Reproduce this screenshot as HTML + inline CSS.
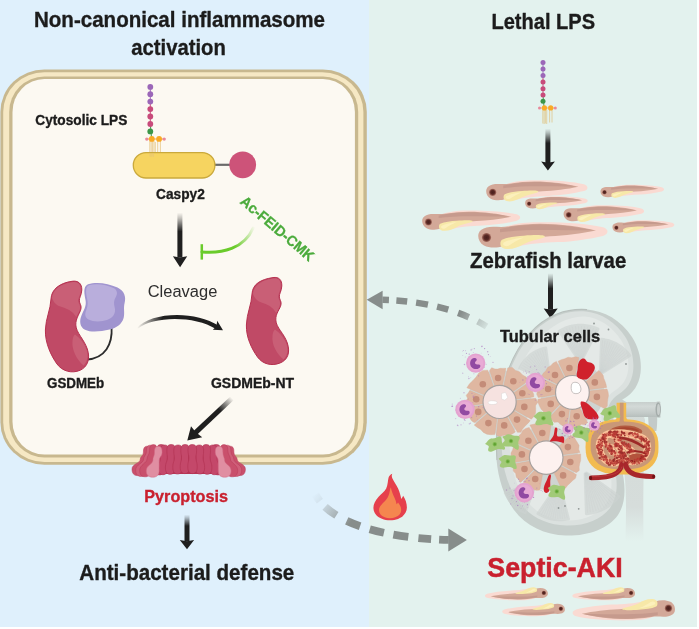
<!DOCTYPE html>
<html lang="en">
<head>
<meta charset="utf-8">
<title>Non-canonical inflammasome activation / Lethal LPS</title>
<style>
html,body{margin:0;padding:0;background:#fff;}
body{width:699px;height:629px;overflow:hidden;}
svg{display:block;will-change:transform;}
text{font-family:"Liberation Sans",Arial,Helvetica,sans-serif;}
.b{font-weight:bold;}
</style>
</head>
<body>
<svg width="699" height="629" viewBox="0 0 699 629">
<defs>
  <linearGradient id="gDown" x1="0" y1="0" x2="0" y2="1">
    <stop offset="0" stop-color="#1f1f1f" stop-opacity="0"/>
    <stop offset="0.12" stop-color="#1f1f1f" stop-opacity="0.25"/>
    <stop offset="0.42" stop-color="#1f1f1f" stop-opacity="1"/>
    <stop offset="1" stop-color="#1f1f1f" stop-opacity="1"/>
  </linearGradient>
</defs>
<defs>
  <radialGradient id="gEye" cx="0.5" cy="0.5" r="0.5">
    <stop offset="0" stop-color="#4a1f1c"/>
    <stop offset="0.55" stop-color="#5a2a25"/>
    <stop offset="0.8" stop-color="#8b5247"/>
    <stop offset="1" stop-color="#a8766a"/>
  </radialGradient>
  <!-- zebrafish larva, local length 128, head left -->
  <g id="fish">
    <path d="M20,8 C28,0.6 45,-0.9 60,-1.1 C85,-1.4 112,0.6 125,4 C131,6 131,10.6 125,12.6 C112,15.6 95,18.2 80,18.8 C65,19.4 50,20.6 40,23.2 C34,24.8 24,20 20,8 Z" fill="#fadad2"/>
    <path d="M8.5,4.2 C14,2.6 22,4.4 30,3.2 C42,1.5 52,0.5 62,0.5 C82,0.5 104,3.6 118,7.2 C104,10.3 86,12.2 72,12.9 C60,13.5 50,15.2 40,17.3 C34,18.6 30,21 25,22.8 C19,25 11,24.8 6,22.3 C1.2,19.8 -0.6,14.3 0.6,10.2 C1.6,6.9 4.5,5.3 8.5,4.2 Z" fill="#d3a898"/>
    <path d="M22,5.6 C36,2.4 50,1.1 62,1.1 C82,1.1 102,4 115.5,7 C100,7 82,6.6 64,6.6 C48,6.6 34,7.4 22,9 Z" fill="#c2958a" opacity="0.75"/>
    <path d="M24,16.5 C30,13.6 38,13 46,12.4 C54,11.8 62,11.4 66,12.4 C67.5,12.9 67,14 65,14.6 C58,16.3 52,17.6 46,20.6 C41,23.2 36,25.8 30,25.8 C25,25.8 22.4,23.6 22.4,20.6 C22.4,18.8 22.8,17.2 24,16.5 Z" fill="#f7e8a8"/>
    <path d="M26,19 C31,16.5 38,15.2 46,14.2 C40,16.5 35,19.5 31,22.2 C28.5,23.6 25.5,22.6 25.2,21 C25,20.2 25.3,19.4 26,19 Z" fill="#fdf3c4" opacity="0.7"/>
    <circle cx="8.5" cy="14.2" r="4.6" fill="url(#gEye)"/>
  </g>
</defs>
<!-- backgrounds -->
<rect x="0" y="0" width="699" height="629" fill="#ffffff"/>
<rect x="0" y="0" width="369" height="627" fill="#dff0fc"/>
<rect x="369" y="0" width="328" height="627" fill="#e3f2ee"/>
<!-- cell membrane -->
<g id="cell">
  <rect x="0.4" y="69.4" width="366.4" height="395.4" rx="44" ry="42.5" fill="#c8b88f"/>
  <rect x="3.2" y="72.2" width="360.2" height="389.8" rx="41.2" ry="39.7" fill="#f6e8c4"/>
  <rect x="9.2" y="76.5" width="349" height="380.9" rx="35.2" ry="35.4" fill="#c8b88f"/>
  <rect x="12.5" y="79" width="342.4" height="375.6" rx="31.9" ry="32.9" fill="#fcf9f2"/>
</g>
<!-- cytosolic LPS -->
<g id="lps">
  <line x1="150.3" y1="87" x2="150.3" y2="101.6" stroke="#9b67b8" stroke-width="1"/>
  <line x1="150.3" y1="101.6" x2="150.3" y2="124" stroke="#c84b7b" stroke-width="1"/>
  <line x1="150.3" y1="124" x2="151.5" y2="138" stroke="#3c9648" stroke-width="1"/>
  <line x1="146.8" y1="139" x2="164.2" y2="139" stroke="#f1a040" stroke-width="0.9"/>
  <g stroke="#dfb561" stroke-width="0.6" fill="none">
    <path d="M149.8,141 V156.5 M151.2,141 V157 M152.6,141 V156.5 M154,141 V157 M155.3,142 V156"/>
    <path d="M157.7,141 V154 M160.4,141 V154"/>
  </g>
  <circle cx="150.3" cy="86.9" r="2.9" fill="#9b67b8"/>
  <circle cx="150.3" cy="94.2" r="2.9" fill="#9b67b8"/>
  <circle cx="150.3" cy="101.6" r="2.9" fill="#9b67b8"/>
  <circle cx="150.3" cy="109.1" r="2.9" fill="#c84b7b"/>
  <circle cx="150.3" cy="116.5" r="2.9" fill="#c84b7b"/>
  <circle cx="150.3" cy="124" r="2.9" fill="#c84b7b"/>
  <circle cx="150.3" cy="131.4" r="2.9" fill="#3c9648"/>
  <circle cx="146.8" cy="139.1" r="1.7" fill="#e8899b"/>
  <circle cx="164.2" cy="139.1" r="1.7" fill="#e8899b"/>
  <circle cx="151.8" cy="138.9" r="2.9" fill="#f9aa26"/>
  <circle cx="159.1" cy="138.9" r="2.9" fill="#f9aa26"/>
</g>
<!-- Caspy2 -->
<g id="caspy2">
  <line x1="214" y1="164.8" x2="231" y2="164.8" stroke="#6a6a6a" stroke-width="2.2"/>
  <rect x="133.3" y="152.6" width="81.6" height="25.4" rx="12.7" ry="12.7" fill="#f6d460" stroke="#caa93c" stroke-width="1.3"/>
  <g stroke="#e3c07c" stroke-width="0.6" fill="none" opacity="0.8">
    <path d="M149.9,153 V156.5 M151.1,153 V157 M152.3,153 V156.5 M153.5,153 V157"/>
  </g>
  <circle cx="242.7" cy="164.8" r="13.4" fill="#cd5379"/>
</g>
<!-- arrow Caspy2 -> cleavage -->
<g id="arrow1">
  <rect x="177.4" y="212.6" width="5" height="45" fill="url(#gDown)"/>
  <path d="M172.9,256.2 L180,257.4 L187.2,256.2 L180.1,267.2 Z" fill="#1f1f1f"/>
</g>
<!-- inhibitor -->
<g id="inhib">
  <defs>
    <linearGradient id="gInh" gradientUnits="userSpaceOnUse" x1="203" y1="252" x2="254" y2="228">
      <stop offset="0" stop-color="#6acb2b"/>
      <stop offset="0.55" stop-color="#6acb2b"/>
      <stop offset="1" stop-color="#6acb2b" stop-opacity="0.05"/>
    </linearGradient>
  </defs>
  <path d="M202,251.9 C222,253.6 244,249 253.2,228" fill="none" stroke="url(#gInh)" stroke-width="3" stroke-linecap="round"/>
  <line x1="201.8" y1="244.2" x2="201.8" y2="259.6" stroke="#6acb2b" stroke-width="2.5"/>
</g>
<!-- curved arrow -->
<g id="curve">
  <defs>
    <linearGradient id="gCur" gradientUnits="userSpaceOnUse" x1="137" y1="328" x2="222" y2="328">
      <stop offset="0" stop-color="#1f1f1f" stop-opacity="0"/>
      <stop offset="0.3" stop-color="#1f1f1f" stop-opacity="1"/>
      <stop offset="1" stop-color="#1f1f1f"/>
    </linearGradient>
  </defs>
  <path d="M137,328 C150,312 195,310 218.5,325.6 L216,329 C194,315 152,316.4 138,328.6 Z" fill="url(#gCur)"/>
  <path d="M223,330.2 L212.8,329.8 L216.4,326.4 L217.2,320.8 Z" fill="#1f1f1f"/>
</g>
<!-- GSDMEb full length -->
<g id="gsdmeb">
  <path d="M111.6,327 C112.6,344 105.5,358.3 86.5,359.6" fill="none" stroke="#2c2c2c" stroke-width="1.8"/>
  <path d="M72,281.3 C78,280.3 82,283.5 81.8,290 C81.6,295 79,298 79.3,301 C79.6,304 81.6,305 81,308.5 C80.3,313 75.5,318 75.8,325 C76.2,333 84,339 87.3,349 C90.6,359 87.5,367 80,370.3 C72,373.7 62.5,371.5 57,364 C51,355.5 45,343 45.4,330 C45.8,318 50.5,310 51,299 C51.4,289 60,283 72,281.3 Z" fill="#c04a66" stroke="#b5304f" stroke-width="1"/>
  <path d="M72,282.3 C77.5,281.3 81,284 80.8,290 C80.6,295 78,298 78.3,301 C78.6,304 80.6,305 80,308.5 C79.5,311.5 77.5,314.5 76.2,317 C73,311 66,308 60.5,306.5 C56,305.3 53.5,302 52,298 C52.8,289.5 60.5,284 72,282.3 Z" fill="#c95f76"/>
  <path d="M75,334.5 C80,338 84.8,343.5 86.8,350.5 C88.6,357 86.8,362.5 83.5,365.5 C77,360 71.5,350 72.5,341 C72.8,338 73.5,335.5 75,334.5 Z" fill="#c95f76"/>
  <path d="M88,284.3 C96,281.5 108,283 117.5,287.5 C124.5,291 126.2,297 124.6,303 C123.2,308.5 125,313 123.6,318 C122,324 116.5,328 109.5,329.6 C101,331.6 91,332.8 85,329.8 C80,327.3 79.2,321.5 81.3,316 C83.4,310.5 86.6,306.5 85.6,300.5 C84.6,294.5 82.5,287 88,284.3 Z" fill="#a094cf"/>
  <path d="M89,285.3 C96,283 106,284.3 113.5,288 C117.5,290 117.8,294 115.8,297 C113.5,300.5 113.8,304 114.8,308 C116,313 113,318 107,320 C101,322 93,322 88.5,319.5 C85,317.5 84.5,314 86.3,310 C88,306 88,302 87,298 C86,293.5 85,287 89,285.3 Z" fill="#b9aedc"/>
</g>
<!-- GSDMEb-NT -->
<g id="gsdmebnt">
  <path d="M273,277.6 C279,276.6 282,280 281.8,286 C281.6,291 279,294 279.3,297 C279.6,300 281.6,301 281,304.5 C280.3,309 275.5,313 275.8,320 C276.2,328 284,333 287.3,343 C290.6,353 287.5,360 280,363 C272,366.2 263,364.5 257.5,357 C251.5,348.5 246,337 246.4,325 C246.8,313 251.5,305 252,294 C252.4,284 261,279.3 273,277.6 Z" fill="#c04a66" stroke="#b5304f" stroke-width="1"/>
  <path d="M273,278.6 C278.5,277.6 281,280.5 280.8,286 C280.6,291 278,294 278.3,297 C278.6,300 280.6,301 280,304.5 C279.5,307.5 277.5,310.5 276.2,313 C273,307 267,304 261.5,302.5 C257,301.3 254.5,298 253,294 C253.8,285.5 261.5,280.3 273,278.6 Z" fill="#c95f76"/>
  <path d="M275,329.5 C280,333 284.8,338.5 286.8,345 C288.6,351 286.8,356.5 283.5,359.5 C277,354 271.5,345 272.5,336 C272.8,333 273.5,330.5 275,329.5 Z" fill="#c95f76"/>
</g>
<!-- diagonal arrow to pore -->
<g id="arrow2">
  <defs>
    <linearGradient id="gDiag" gradientUnits="userSpaceOnUse" x1="232" y1="398" x2="190" y2="438">
      <stop offset="0" stop-color="#1f1f1f" stop-opacity="0"/>
      <stop offset="0.3" stop-color="#1f1f1f" stop-opacity="1"/>
      <stop offset="1" stop-color="#1f1f1f"/>
    </linearGradient>
  </defs>
  <line x1="232.3" y1="398" x2="194.5" y2="433.6" stroke="url(#gDiag)" stroke-width="5"/>
  <path d="M187.3,440.4 L191,426.3 L195.8,432.2 L202.2,437.3 Z" fill="#1f1f1f"/>
</g>
<!-- arrow pyroptosis -> defense -->
<g id="arrow3">
  <rect x="184.5" y="514.6" width="5" height="27" fill="url(#gDown)"/>
  <path d="M179.8,540 L187,541.2 L194.1,540 L187,549.3 Z" fill="#1f1f1f"/>
</g>
<!-- gasdermin pore -->
<g id="pore">
  <path d="M147.2,446.2 C150.6,446.2 150.9,449.2 150.9,452.2 C150.9,456.2 146.4,456.4 146.4,459.4 C146.4,463.4 143.0,463.6 143.0,469.1 C143.0,473.1 141.3,475.6 137.5,475.6 C133.7,475.6 132.0,473.1 132.0,469.1 C132.0,463.6 140.2,463.4 140.2,459.4 C140.2,456.4 143.4,456.2 143.4,452.2 C143.4,449.2 143.8,446.2 147.2,446.2 Z" fill="#c9506c" stroke="#b93a58" stroke-width="0.5"/>
  <path d="M150.2,445.2 C153.6,445.2 153.9,448.2 153.9,451.2 C153.9,455.2 149.7,456.2 149.7,459.2 C149.7,463.2 146.7,464.4 146.7,469.9 C146.7,473.9 145.0,476.4 141.2,476.4 C137.3,476.4 135.7,473.9 135.7,469.9 C135.7,464.4 143.5,463.2 143.5,459.2 C143.5,456.2 146.4,455.2 146.4,451.2 C146.4,448.2 146.8,445.2 150.2,445.2 Z" fill="#cf5f79" stroke="#b93a58" stroke-width="0.5"/>
  <path d="M153.4,444.6 C156.8,444.6 157.1,447.6 157.1,450.6 C157.1,454.6 153.2,456.1 153.2,459.1 C153.2,463.1 150.7,464.8 150.7,470.3 C150.7,474.3 149.0,476.8 145.2,476.8 C141.3,476.8 139.7,474.3 139.7,470.3 C139.7,464.8 147.0,463.1 147.0,459.1 C147.0,456.1 149.6,454.6 149.6,450.6 C149.6,447.6 150.0,444.6 153.4,444.6 Z" fill="#c9506c" stroke="#b93a58" stroke-width="0.5"/>
  <path d="M230.2,446.2 C233.6,446.2 233.9,449.2 233.9,452.2 C233.9,456.2 237.2,456.4 237.2,459.4 C237.2,463.4 245.4,463.6 245.4,469.1 C245.4,473.1 243.7,475.6 239.9,475.6 C236.0,475.6 234.4,473.1 234.4,469.1 C234.4,463.6 231.0,463.4 231.0,459.4 C231.0,456.4 226.4,456.2 226.4,452.2 C226.4,449.2 226.8,446.2 230.2,446.2 Z" fill="#c9506c" stroke="#b93a58" stroke-width="0.5"/>
  <path d="M227.2,445.2 C230.6,445.2 230.9,448.2 230.9,451.2 C230.9,455.2 233.9,456.2 233.9,459.2 C233.9,463.2 241.7,464.4 241.7,469.9 C241.7,473.9 240.0,476.4 236.2,476.4 C232.3,476.4 230.7,473.9 230.7,469.9 C230.7,464.4 227.7,463.2 227.7,459.2 C227.7,456.2 223.4,455.2 223.4,451.2 C223.4,448.2 223.8,445.2 227.2,445.2 Z" fill="#cf5f79" stroke="#b93a58" stroke-width="0.5"/>
  <path d="M224.0,444.6 C227.4,444.6 227.8,447.6 227.8,450.6 C227.8,454.6 230.4,456.1 230.4,459.1 C230.4,463.1 237.7,464.8 237.7,470.3 C237.7,474.3 236.0,476.8 232.2,476.8 C228.3,476.8 226.7,474.3 226.7,470.3 C226.7,464.8 224.2,463.1 224.2,459.1 C224.2,456.1 220.2,454.6 220.2,450.6 C220.2,447.6 220.6,444.6 224.0,444.6 Z" fill="#c9506c" stroke="#b93a58" stroke-width="0.5"/>
  <path d="M158,447.5 H219.4 L221.5,474 H156 Z" fill="#b73655"/>
  <path d="M161.1,444.5 C165.0,444.5 165.4,447.5 165.4,450.5 C165.4,454.5 164.0,455.2 164.0,458.2 C164.0,462.2 164.1,462.9 164.1,468.4 C164.1,472.4 162.7,474.9 159.4,474.9 C156.2,474.9 154.7,472.4 154.7,468.4 C154.7,462.9 156.9,462.2 156.9,458.2 C156.9,455.2 156.8,454.5 156.8,450.5 C156.8,447.5 157.2,444.5 161.1,444.5 Z" fill="#c4486a" stroke="#b03050" stroke-width="0.6"/>
  <path d="M216.3,444.5 C220.2,444.5 220.6,447.5 220.6,450.5 C220.6,454.5 220.5,455.2 220.5,458.2 C220.5,462.2 222.7,462.9 222.7,468.4 C222.7,472.4 221.2,474.9 218.0,474.9 C214.7,474.9 213.3,472.4 213.3,468.4 C213.3,462.9 213.4,462.2 213.4,458.2 C213.4,455.2 212.0,454.5 212.0,450.5 C212.0,447.5 212.4,444.5 216.3,444.5 Z" fill="#c4486a" stroke="#b03050" stroke-width="0.6"/>
  <path d="M164.5,445.0 C168.4,445.0 168.8,448.0 168.8,451.0 C168.8,455.0 167.4,455.4 167.4,458.4 C167.4,462.4 167.7,462.7 167.7,468.2 C167.7,472.2 166.3,474.7 163.0,474.7 C159.8,474.7 158.3,472.2 158.3,468.2 C158.3,462.7 160.4,462.4 160.4,458.4 C160.4,455.4 160.2,455.0 160.2,451.0 C160.2,448.0 160.6,445.0 164.5,445.0 Z" fill="#c4486a" stroke="#b03050" stroke-width="0.6"/>
  <path d="M212.9,445.0 C216.8,445.0 217.2,448.0 217.2,451.0 C217.2,455.0 217.0,455.4 217.0,458.4 C217.0,462.4 219.1,462.7 219.1,468.2 C219.1,472.2 217.6,474.7 214.4,474.7 C211.1,474.7 209.7,472.2 209.7,468.2 C209.7,462.7 210.0,462.4 210.0,458.4 C210.0,455.4 208.6,455.0 208.6,451.0 C208.6,448.0 209.0,445.0 212.9,445.0 Z" fill="#c4486a" stroke="#b03050" stroke-width="0.6"/>
  <path d="M171.2,444.5 C175.1,444.5 175.5,447.5 175.5,450.5 C175.5,454.5 174.3,454.9 174.3,457.9 C174.3,461.9 174.8,462.3 174.8,467.8 C174.8,471.8 173.4,474.3 170.1,474.3 C166.9,474.3 165.4,471.8 165.4,467.8 C165.4,462.3 167.3,461.9 167.3,457.9 C167.3,454.9 166.9,454.5 166.9,450.5 C166.9,447.5 167.3,444.5 171.2,444.5 Z" fill="#c4486a" stroke="#b03050" stroke-width="0.6"/>
  <path d="M206.2,444.5 C210.1,444.5 210.5,447.5 210.5,450.5 C210.5,454.5 210.1,454.9 210.1,457.9 C210.1,461.9 211.9,462.3 211.9,467.8 C211.9,471.8 210.5,474.3 207.2,474.3 C204.0,474.3 202.6,471.8 202.6,467.8 C202.6,462.3 203.1,461.9 203.1,457.9 C203.1,454.9 201.9,454.5 201.9,450.5 C201.9,447.5 202.3,444.5 206.2,444.5 Z" fill="#c4486a" stroke="#b03050" stroke-width="0.6"/>
  <path d="M178.1,445.0 C182.0,445.0 182.4,448.0 182.4,451.0 C182.4,455.0 181.4,455.0 181.4,458.0 C181.4,462.0 182.2,462.0 182.2,467.5 C182.2,471.5 180.8,474.0 177.5,474.0 C174.2,474.0 172.8,471.5 172.8,467.5 C172.8,462.0 174.3,462.0 174.3,458.0 C174.3,455.0 173.8,455.0 173.8,451.0 C173.8,448.0 174.2,445.0 178.1,445.0 Z" fill="#c4486a" stroke="#b03050" stroke-width="0.6"/>
  <path d="M199.3,445.0 C203.2,445.0 203.6,448.0 203.6,451.0 C203.6,455.0 203.1,455.0 203.1,458.0 C203.1,462.0 204.6,462.0 204.6,467.5 C204.6,471.5 203.2,474.0 199.9,474.0 C196.6,474.0 195.2,471.5 195.2,467.5 C195.2,462.0 196.0,462.0 196.0,458.0 C196.0,455.0 195.0,455.0 195.0,451.0 C195.0,448.0 195.4,445.0 199.3,445.0 Z" fill="#c4486a" stroke="#b03050" stroke-width="0.6"/>
  <path d="M185.1,444.5 C189.0,444.5 189.4,447.5 189.4,450.5 C189.4,454.5 188.5,454.6 188.5,457.6 C188.5,461.6 189.6,461.6 189.6,467.1 C189.6,471.1 188.2,473.6 184.9,473.6 C181.6,473.6 180.2,471.1 180.2,467.1 C180.2,461.6 181.5,461.6 181.5,457.6 C181.5,454.6 180.8,454.5 180.8,450.5 C180.8,447.5 181.2,444.5 185.1,444.5 Z" fill="#c4486a" stroke="#b03050" stroke-width="0.6"/>
  <path d="M192.3,444.5 C196.2,444.5 196.6,447.5 196.6,450.5 C196.6,454.5 195.9,454.6 195.9,457.6 C195.9,461.6 197.2,461.6 197.2,467.1 C197.2,471.1 195.8,473.6 192.5,473.6 C189.2,473.6 187.8,471.1 187.8,467.1 C187.8,461.6 188.9,461.6 188.9,457.6 C188.9,454.6 188.0,454.5 188.0,450.5 C188.0,447.5 188.4,444.5 192.3,444.5 Z" fill="#c4486a" stroke="#b03050" stroke-width="0.6"/>
  <path d="M158.3,446.3 C161.7,446.3 162.1,449.3 162.1,452.3 C162.1,456.3 159.2,457.2 159.2,460.2 C159.2,464.2 159.1,465.2 159.1,470.7 C159.1,474.7 157.2,477.2 152.7,477.2 C148.2,477.2 146.3,474.7 146.3,470.7 C146.3,465.2 152.9,464.2 152.9,460.2 C152.9,457.2 154.5,456.3 154.5,452.3 C154.5,449.3 154.9,446.3 158.3,446.3 Z" fill="#e08ea2" stroke="#d06a85" stroke-width="0.5"/>
  <path d="M219.1,446.3 C222.5,446.3 222.9,449.3 222.9,452.3 C222.9,456.3 224.5,457.2 224.5,460.2 C224.5,464.2 231.1,465.2 231.1,470.7 C231.1,474.7 229.2,477.2 224.7,477.2 C220.2,477.2 218.3,474.7 218.3,470.7 C218.3,465.2 218.2,464.2 218.2,460.2 C218.2,457.2 215.3,456.3 215.3,452.3 C215.3,449.3 215.7,446.3 219.1,446.3 Z" fill="#e08ea2" stroke="#d06a85" stroke-width="0.5"/>
</g>
<!-- lethal LPS -->
<g id="lps2">
  <line x1="543" y1="62.4" x2="543" y2="75.6" stroke="#9b67b8" stroke-width="0.9"/>
  <line x1="543" y1="75.6" x2="543" y2="95" stroke="#c84b7b" stroke-width="0.9"/>
  <line x1="543" y1="95" x2="544" y2="107" stroke="#3c9648" stroke-width="0.9"/>
  <line x1="539.5" y1="108" x2="555.3" y2="108" stroke="#f1a040" stroke-width="0.8"/>
  <g stroke="#dfb561" stroke-width="0.55" fill="none">
    <path d="M542.8,110 V123.5 M544.1,110 V124 M545.4,110 V123.5 M546.7,110 V124"/>
    <path d="M549.6,110 V122.5 M552,110 V122.5"/>
  </g>
  <circle cx="543" cy="62.4" r="2.5" fill="#9b67b8"/>
  <circle cx="543" cy="69" r="2.5" fill="#9b67b8"/>
  <circle cx="543" cy="75.6" r="2.5" fill="#9b67b8"/>
  <circle cx="543" cy="82.1" r="2.5" fill="#c84b7b"/>
  <circle cx="543" cy="88.7" r="2.5" fill="#c84b7b"/>
  <circle cx="543" cy="95" r="2.5" fill="#c84b7b"/>
  <circle cx="543" cy="101.3" r="2.5" fill="#3c9648"/>
  <circle cx="539.5" cy="108" r="1.5" fill="#e8899b"/>
  <circle cx="555.3" cy="108" r="1.5" fill="#e8899b"/>
  <circle cx="544.4" cy="107.9" r="2.6" fill="#f9aa26"/>
  <circle cx="550.7" cy="107.9" r="2.6" fill="#f9aa26"/>
</g>
<g id="arrow4">
  <rect x="545.4" y="128.6" width="5" height="34.5" fill="url(#gDown)"/>
  <path d="M541.2,161.5 L547.9,162.7 L554.9,161.5 L547.9,170.5 Z" fill="#1f1f1f"/>
</g>
<!-- zebrafish larvae -->
<g id="larvae">
  <use href="#fish" transform="translate(486,181.2) scale(0.7836)"/>
  <use href="#fish" transform="translate(600.3,185.2) scale(0.492)"/>
  <use href="#fish" transform="translate(525,196.8) scale(0.484)"/>
  <use href="#fish" transform="translate(563.4,206) scale(0.623)"/>
  <use href="#fish" transform="translate(422,211.3) scale(0.758)"/>
  <use href="#fish" transform="translate(612.3,220.9) scale(0.479)"/>
  <use href="#fish" transform="translate(478,223.3) scale(1.0)"/>
</g>
<g id="arrow5">
  <rect x="548" y="273.2" width="5" height="36.5" fill="url(#gDown)"/>
  <path d="M543.7,308.4 L550.5,309.6 L557.7,308.4 L550.6,318.3 Z" fill="#1f1f1f"/>
</g>
<!-- dead larvae -->
<g id="deadlarvae">
  <use href="#fish" transform="translate(548,599.8) rotate(180) scale(0.487)"/>
  <use href="#fish" transform="translate(635.2,599.8) rotate(180) scale(0.485)"/>
  <use href="#fish" transform="translate(565,615.6) rotate(180) scale(0.485)"/>
  <use href="#fish" transform="translate(675.2,619.5) rotate(180) scale(0.792)"/>
</g>
<!-- kidney -->
<g id="kidney">
  <defs><linearGradient id="gUre" x1="0" y1="0" x2="0" y2="1"><stop offset="0" stop-color="#d3dad7"/><stop offset="0.75" stop-color="#d6dddb"/><stop offset="1" stop-color="#d6dddb" stop-opacity="0"/></linearGradient><linearGradient id="gVes" x1="0" y1="0" x2="0" y2="1"><stop offset="0" stop-color="#c6cdcb"/><stop offset="0.3" stop-color="#d3d9d7"/><stop offset="0.7" stop-color="#c4cbc9"/><stop offset="1" stop-color="#b4bcba"/></linearGradient></defs>
  <path d="M624,470 C626,485 626.5,500 625.5,541 H643.5 C643,505 643.5,470 645,420 L640,404 L626,404 Z" fill="url(#gUre)"/>
  <path d="M648,415 H657 C657.4,420 657.2,426 656.4,431 H649 Z" fill="#c3cac8"/>
  <path d="M606,392 C612,394 620,398 627,402.6 L640,404 L640,416.8 L622,416.8 C617,410 610,404 603,400 Z" fill="#c9cfcd"/>
  <path d="M618,401.9 H656 C658,401.6 659.8,401.4 660.4,401.9 V417.4 C659.8,417.9 658,417.4 656,417 H618 Z" fill="url(#gVes)"/>
  <ellipse cx="658.2" cy="409.6" rx="2.7" ry="7.4" fill="#a4acaa"/>
  <ellipse cx="658.5" cy="409.6" rx="1.5" ry="5.6" fill="#c9cfcd"/>
  <path d="M587,309.6 C604,311 621,320 632,337 C639,348 642,361 640.5,373 C639,385 633,393 625,398 C618,402 614,408 613.5,416 C613,430 617,450 621.5,468 C626,486 626,503 618,515 C608,529 588,536 566,535.6 C545,535 526,526 514,510 C503,495 497,476 496,452 C495,425 499,395 509,368 C519,342 536,322 557,314 C567,310 578,309 587,309.6 Z" fill="#c7cfcc"/>
  <path d="M586,311.6 C601,313 616,322 626,338 C632,349 634.5,361 633,372 C631.5,382 627,389 619,394 C611,399 607,407 606.5,416 C606,431 610,450 614.5,468 C618.5,485 617,498 610,508 C601,520 585,526 566,525.5 C548,525 532,518 520.5,504 C510,491 503.5,474 502,452 C500.5,427 501.5,397 510.5,370 C520,344 537,324 558,315.6 C568,311.8 577,310.8 586,311.6 Z" fill="#dbe1df"/>
  <path d="M585,316.5 C599,318 612,326 621,340 C627,350 629.5,361 628,371 C626.5,380 622,386 615,390.5 C606,396 602,406 601.5,416 C601,431 605,450 609.5,468 C613,484 612,495 606,504 C598,515 583,521 566,520.5 C550,520 537,513.5 527,501.5 C518,490 512,473 510,452 C508,427 509,399 517,375 C526,351 542,332 560,322.5 C568,318.5 577,316 585,316.5 Z" fill="#e4e9e7"/>
  <path d="M497,460 C495,430 499,395 509,368 C519,342 536,322 557,314 C567,310 578,309 587,309.6" fill="none" stroke="#b9c1be" stroke-width="1.1"/>
  <filter id="fSoft" x="-10%" y="-10%" width="120%" height="120%"><feGaussianBlur stdDeviation="0.7"/></filter>
  <g filter="url(#fSoft)" opacity="0.7">
  <path d="M519.5,368.4 L521.1,365.3 L523.0,362.4 L525.2,359.6 L527.6,357.1 L530.2,354.8 L533.1,352.8 L536.1,351.1 L539.3,349.6 L542.6,348.5 L545.9,347.7 L550.2,378.7 L550.0,378.8 L549.8,378.9 L549.7,379.0 L549.5,379.1 L549.3,379.3 L549.1,379.4 L549.0,379.5 L548.8,379.7 L548.7,379.8 L548.5,380.0 Z" fill="#cdd3d1" stroke="#cdd3d1" stroke-width="2.5" stroke-linejoin="round" opacity="0.9"/>
  <path d="M548.6,379.9 L520.9,367.6 M548.7,379.8 L522.2,365.3 M548.8,379.7 L523.6,363.2 M548.9,379.6 L525.2,361.1 M549.1,379.5 L527.0,359.1 M549.2,379.4 L528.8,357.3 M549.3,379.3 L530.8,355.6 M549.4,379.2 L532.9,354.1 M549.6,379.1 L535.2,352.7 M549.7,379.0 L537.5,351.5 M549.8,378.9 L539.9,350.5 M550.0,378.8 L542.3,349.6 M550.1,378.7 L544.9,348.9" fill="none" stroke="#bec5c3" stroke-width="0.45" opacity="0.8"/>
  <path d="M559.0,331.0 L562.6,329.1 L566.4,327.5 L570.3,326.3 L574.3,325.5 L578.4,325.1 L582.5,325.0 L586.6,325.4 L590.6,326.2 L594.6,327.4 L598.3,328.9 L581.4,361.1 L581.2,361.0 L581.0,361.0 L580.7,361.0 L580.5,361.0 L580.3,361.0 L580.1,361.0 L579.8,361.0 L579.6,361.1 L579.4,361.1 L579.2,361.2 Z" fill="#cdd3d1" stroke="#cdd3d1" stroke-width="2.5" stroke-linejoin="round" opacity="0.9"/>
  <path d="M579.3,361.1 L560.8,331.1 M579.4,361.1 L563.6,329.7 M579.6,361.1 L566.4,328.5 M579.8,361.1 L569.4,327.6 M579.9,361.0 L572.3,326.8 M580.1,361.0 L575.4,326.3 M580.3,361.0 L578.5,326.1 M580.5,361.0 L581.5,326.0 M580.6,361.0 L584.6,326.2 M580.8,361.0 L587.7,326.6 M581.0,361.0 L590.7,327.3 M581.1,361.0 L593.6,328.1 M581.3,361.0 L596.5,329.2" fill="none" stroke="#bec5c3" stroke-width="0.45" opacity="0.8"/>
  <path d="M601.4,339.1 L604.8,339.6 L608.1,340.3 L611.3,341.4 L614.5,342.7 L617.5,344.2 L620.4,346.1 L623.1,348.1 L625.6,350.4 L627.9,352.9 L629.9,355.6 L601.8,373.4 L601.7,373.2 L601.5,373.1 L601.3,373.0 L601.2,372.9 L601.0,372.8 L600.8,372.7 L600.6,372.6 L600.5,372.5 L600.3,372.5 L600.1,372.4 Z" fill="#cdd3d1" stroke="#cdd3d1" stroke-width="2.5" stroke-linejoin="round" opacity="0.9"/>
  <path d="M600.2,372.4 L602.6,340.3 M600.3,372.5 L605.1,340.7 M600.5,372.5 L607.6,341.2 M600.6,372.6 L610.0,342.0 M600.7,372.7 L612.4,342.8 M600.9,372.7 L614.7,343.9 M601.0,372.8 L617.0,345.1 M601.1,372.9 L619.2,346.4 M601.3,373.0 L621.2,347.9 M601.4,373.0 L623.2,349.6 M601.5,373.1 L625.0,351.3 M601.6,373.2 L626.8,353.2 M601.8,373.3 L628.4,355.2" fill="none" stroke="#bec5c3" stroke-width="0.45" opacity="0.8"/>
  <path d="M619.2,496.3 L616.8,499.3 L614.0,502.0 L611.1,504.4 L607.9,506.7 L604.6,508.6 L601.1,510.3 L597.5,511.6 L593.8,512.7 L590.0,513.5 L586.2,513.9 L584.9,473.7 L585.1,473.6 L585.3,473.5 L585.5,473.5 L585.6,473.4 L585.8,473.3 L586.0,473.2 L586.1,473.1 L586.3,473.0 L586.5,472.9 L586.6,472.8 Z" fill="#cdd3d1" stroke="#cdd3d1" stroke-width="2.5" stroke-linejoin="round" opacity="0.9"/>
  <path d="M586.6,472.8 L617.5,496.8 M586.4,472.9 L615.6,499.0 M586.3,473.0 L613.6,501.0 M586.2,473.1 L611.4,502.9 M586.1,473.2 L609.1,504.7 M585.9,473.2 L606.6,506.3 M585.8,473.3 L604.1,507.7 M585.7,473.4 L601.5,509.0 M585.6,473.4 L598.8,510.1 M585.4,473.5 L596.1,511.1 M585.3,473.5 L593.3,511.8 M585.1,473.6 L590.5,512.4 M585.0,473.7 L587.6,512.8" fill="none" stroke="#bec5c3" stroke-width="0.45" opacity="0.8"/>
  <path d="M568.7,519.1 L565.6,519.6 L562.3,519.9 L559.1,520.0 L555.9,519.8 L552.7,519.4 L549.6,518.7 L546.5,517.8 L543.5,516.6 L540.5,515.2 L537.7,513.6 L558.1,483.7 L558.3,483.7 L558.4,483.8 L558.6,483.8 L558.8,483.9 L559.0,483.9 L559.1,483.9 L559.3,484.0 L559.5,484.0 L559.7,484.0 L559.8,484.0 Z" fill="#cdd3d1" stroke="#cdd3d1" stroke-width="2.5" stroke-linejoin="round" opacity="0.9"/>
  <path d="M559.8,484.0 L567.3,518.3 M559.6,484.0 L564.9,518.7 M559.5,484.0 L562.5,518.9 M559.4,484.0 L560.1,519.0 M559.2,483.9 L557.7,518.9 M559.1,483.9 L555.3,518.7 M559.0,483.9 L552.9,518.4 M558.8,483.9 L550.5,517.9 M558.7,483.9 L548.2,517.3 M558.6,483.8 L545.9,516.5 M558.4,483.8 L543.6,515.6 M558.3,483.8 L541.4,514.6 M558.2,483.7 L539.3,513.4" fill="none" stroke="#bec5c3" stroke-width="0.45" opacity="0.8"/>
  <path d="M525.2,513.0 L522.5,511.7 L520.0,510.3 L517.6,508.7 L515.3,506.9 L513.1,504.9 L511.1,502.7 L509.3,500.4 L507.7,498.0 L506.3,495.5 L505.0,492.8 L535.2,481.6 L535.3,481.7 L535.4,481.9 L535.5,482.0 L535.6,482.1 L535.8,482.2 L535.9,482.4 L536.0,482.5 L536.1,482.6 L536.3,482.7 L536.4,482.8 Z" fill="#cdd3d1" stroke="#cdd3d1" stroke-width="2.5" stroke-linejoin="round" opacity="0.9"/>
  <path d="M536.4,482.8 L524.5,511.6 M536.3,482.7 L522.6,510.6 M536.2,482.6 L520.7,509.6 M536.1,482.5 L518.9,508.4 M536.0,482.4 L517.1,507.1 M535.9,482.3 L515.4,505.7 M535.8,482.2 L513.8,504.2 M535.7,482.1 L512.3,502.6 M535.6,482.0 L510.9,500.9 M535.5,481.9 L509.6,499.1 M535.4,481.8 L508.4,497.3 M535.3,481.7 L507.4,495.4 M535.2,481.6 L506.4,493.5" fill="none" stroke="#bec5c3" stroke-width="0.45" opacity="0.8"/>
  </g>
  <circle cx="594" cy="323.5" r="0.9" fill="#8f9694"/>
  <circle cx="608.5" cy="329.5" r="0.9" fill="#8f9694"/>
  <circle cx="558.5" cy="508" r="0.9" fill="#8f9694"/>
  <circle cx="578.7" cy="508.8" r="0.9" fill="#8f9694"/>
  <circle cx="626" cy="364" r="0.9" fill="#8f9694"/>
  <circle cx="565" cy="506" r="0.9" fill="#8f9694"/>
</g>
<!-- tubular cells -->
<g id="tubules">
  <circle cx="546.2" cy="457.6" r="32" fill="#cfd4d1"/>
  <circle cx="499.6" cy="401.9" r="32" fill="#cfd4d1"/>
  <circle cx="572.4" cy="392.4" r="32" fill="#cfd4d1"/>
  <path d="M531.7,450.1 L534.4,446.4 L537.9,443.5 L529.2,427.4 L525.7,428.5 L522.7,430.4 L521.1,433.8 L518.5,436.1 L516.0,438.7 L515.7,442.5 Z" fill="#dfb7a1" stroke="#d9ae98" stroke-width="0.4"/>
  <circle cx="528.4" cy="440.7" r="3.3" fill="#c48c78"/>
  <path d="M539.2,442.9 L543.7,441.5 L548.3,441.4 L551.6,422.3 L548.0,420.9 L544.2,421.0 L540.8,423.2 L537.0,423.2 L533.6,424.3 L529.9,425.1 Z" fill="#dfb7a1" stroke="#d9ae98" stroke-width="0.4"/>
  <circle cx="542.3" cy="433.0" r="3.3" fill="#c48c78"/>
  <path d="M558.4,446.8 L560.9,450.5 L562.3,454.8 L579.9,452.4 L578.7,449.2 L579.1,445.5 L577.4,442.6 L575.6,439.7 L573.9,436.7 L570.5,435.2 Z" fill="#dfb7a1" stroke="#d9ae98" stroke-width="0.4"/>
  <circle cx="567.9" cy="447.1" r="3.3" fill="#c48c78"/>
  <path d="M562.4,456.2 L562.2,460.5 L560.9,464.6 L576.3,472.7 L579.3,470.4 L579.1,466.9 L579.7,463.7 L580.6,460.5 L580.7,457.2 L580.6,453.9 Z" fill="#dfb7a1" stroke="#d9ae98" stroke-width="0.4"/>
  <circle cx="570.3" cy="462.0" r="3.3" fill="#c48c78"/>
  <path d="M560.3,465.9 L557.4,469.4 L553.7,472.1 L561.5,488.6 L565.4,488.2 L567.7,485.3 L570.2,482.9 L572.7,480.5 L575.5,478.2 L576.4,474.6 Z" fill="#dfb7a1" stroke="#d9ae98" stroke-width="0.4"/>
  <circle cx="563.1" cy="475.4" r="3.3" fill="#c48c78"/>
  <path d="M542.7,473.5 L538.7,472.1 L535.3,469.7 L523.5,481.9 L524.4,485.6 L527.3,487.2 L530.5,488.1 L533.3,489.6 L536.4,490.3 L539.7,490.1 Z" fill="#dfb7a1" stroke="#d9ae98" stroke-width="0.4"/>
  <circle cx="535.2" cy="479.0" r="3.3" fill="#c48c78"/>
  <path d="M534.3,468.7 L531.8,465.2 L530.3,461.1 L512.6,464.3 L513.1,467.6 L513.3,471.1 L515.7,473.6 L516.3,477.2 L518.7,479.6 L520.6,482.4 Z" fill="#dfb7a1" stroke="#d9ae98" stroke-width="0.4"/>
  <circle cx="524.5" cy="469.0" r="3.3" fill="#c48c78"/>
  <path d="M530.0,459.7 L530.0,455.5 L531.1,451.3 L513.8,443.4 L513.5,446.8 L512.6,449.9 L511.0,453.0 L511.2,456.3 L509.8,459.7 L512.1,462.8 Z" fill="#dfb7a1" stroke="#d9ae98" stroke-width="0.4"/>
  <circle cx="521.9" cy="454.4" r="3.3" fill="#c48c78"/>
  <circle cx="546.2" cy="457.6" r="16.8" fill="#fdf1ef" stroke="#a7a19e" stroke-width="1.2"/>
  <path d="M484.9,395.2 L488.5,390.2 L493.7,386.9 L487.8,370.2 L482.8,370.4 L478.8,373.0 L476.1,377.1 L472.9,380.5 L469.5,383.8 L466.9,387.8 Z" fill="#dfb7a1" stroke="#d9ae98" stroke-width="0.4"/>
  <circle cx="482.8" cy="384.2" r="3.3" fill="#c48c78"/>
  <path d="M495.0,386.5 L498.6,385.8 L502.3,386.0 L505.9,368.3 L503.1,368.4 L500.3,368.3 L497.6,369.1 L494.9,369.0 L491.7,367.7 L489.6,370.4 Z" fill="#dfb7a1" stroke="#d9ae98" stroke-width="0.4"/>
  <circle cx="498.1" cy="378.0" r="3.3" fill="#c48c78"/>
  <path d="M503.6,386.3 L508.5,388.5 L512.4,392.1 L528.4,380.7 L526.2,377.1 L522.5,374.9 L519.5,371.8 L515.5,370.4 L512.2,367.4 L507.7,367.9 Z" fill="#dfb7a1" stroke="#d9ae98" stroke-width="0.4"/>
  <circle cx="513.3" cy="381.3" r="3.3" fill="#c48c78"/>
  <path d="M513.2,393.2 L514.6,396.1 L515.5,399.3 L533.8,396.9 L533.7,394.3 L532.7,391.9 L532.8,389.1 L531.9,386.7 L530.2,384.7 L529.1,382.2 Z" fill="#dfb7a1" stroke="#d9ae98" stroke-width="0.4"/>
  <circle cx="522.3" cy="393.2" r="3.3" fill="#c48c78"/>
  <path d="M515.6,400.6 L515.4,405.1 L513.9,409.4 L531.3,419.2 L533.9,416.4 L535.6,413.1 L535.7,409.2 L535.6,405.5 L538.0,401.9 L535.6,398.3 Z" fill="#dfb7a1" stroke="#d9ae98" stroke-width="0.4"/>
  <circle cx="524.3" cy="406.9" r="3.3" fill="#c48c78"/>
  <path d="M513.2,410.5 L510.9,413.4 L508.0,415.6 L517.4,432.3 L520.9,432.2 L522.4,429.3 L524.3,427.0 L526.2,424.9 L528.4,422.9 L530.2,420.6 Z" fill="#dfb7a1" stroke="#d9ae98" stroke-width="0.4"/>
  <circle cx="517.0" cy="419.6" r="3.3" fill="#c48c78"/>
  <path d="M506.8,416.3 L502.7,417.7 L498.3,417.9 L496.3,434.9 L499.5,436.6 L502.8,435.6 L506.0,434.9 L509.6,435.5 L512.6,433.8 L515.3,431.9 Z" fill="#dfb7a1" stroke="#d9ae98" stroke-width="0.4"/>
  <circle cx="504.2" cy="425.4" r="3.3" fill="#c48c78"/>
  <path d="M497.0,417.8 L492.0,416.1 L487.9,413.0 L474.2,425.1 L477.3,427.4 L480.7,429.4 L483.4,432.4 L486.9,434.2 L490.9,434.7 L494.8,434.6 Z" fill="#dfb7a1" stroke="#d9ae98" stroke-width="0.4"/>
  <circle cx="488.4" cy="423.1" r="3.3" fill="#c48c78"/>
  <path d="M487.0,411.9 L485.0,408.7 L483.8,405.1 L467.0,407.9 L466.4,410.9 L469.1,413.1 L469.1,416.1 L470.2,418.8 L471.9,421.1 L474.5,422.7 Z" fill="#dfb7a1" stroke="#d9ae98" stroke-width="0.4"/>
  <circle cx="478.2" cy="411.9" r="3.3" fill="#c48c78"/>
  <path d="M483.6,403.7 L483.6,400.1 L484.4,396.5 L469.7,390.6 L468.3,393.0 L466.2,395.3 L467.6,398.3 L466.1,400.9 L466.6,403.6 L466.5,406.3 Z" fill="#dfb7a1" stroke="#d9ae98" stroke-width="0.4"/>
  <circle cx="476.2" cy="399.2" r="3.3" fill="#c48c78"/>
  <circle cx="499.6" cy="401.9" r="16.6" fill="#f6e2e0" stroke="#a7a19e" stroke-width="1.2"/>
  <path d="M558.0,384.6 L560.8,380.8 L564.6,378.0 L556.4,361.4 L553.2,363.1 L550.7,365.7 L547.6,367.6 L545.9,370.8 L543.2,373.3 L541.5,376.4 Z" fill="#dfb7a1" stroke="#d9ae98" stroke-width="0.4"/>
  <circle cx="555.0" cy="375.0" r="3.3" fill="#c48c78"/>
  <path d="M565.8,377.4 L570.4,376.1 L575.1,376.2 L578.9,357.6 L575.4,356.8 L571.7,357.8 L568.1,357.2 L564.7,358.8 L561.3,359.7 L558.1,361.3 Z" fill="#dfb7a1" stroke="#d9ae98" stroke-width="0.4"/>
  <circle cx="569.4" cy="368.0" r="3.3" fill="#c48c78"/>
  <path d="M585.2,382.2 L587.4,385.7 L588.6,389.7 L606.6,387.4 L606.0,384.3 L605.0,381.3 L603.8,378.4 L603.1,375.2 L601.1,372.8 L598.9,370.4 Z" fill="#dfb7a1" stroke="#d9ae98" stroke-width="0.4"/>
  <circle cx="594.8" cy="382.4" r="3.3" fill="#c48c78"/>
  <path d="M588.7,391.1 L588.5,395.4 L587.2,399.5 L605.0,408.8 L607.3,406.0 L607.4,402.3 L607.8,399.0 L608.5,395.6 L608.1,392.2 L607.0,389.0 Z" fill="#dfb7a1" stroke="#d9ae98" stroke-width="0.4"/>
  <circle cx="596.9" cy="396.9" r="3.3" fill="#c48c78"/>
  <path d="M579.5,407.2 L575.3,408.5 L571.0,408.7 L568.9,424.9 L572.0,427.7 L575.3,426.8 L578.6,426.4 L581.4,424.3 L585.0,424.8 L587.5,422.5 Z" fill="#dfb7a1" stroke="#d9ae98" stroke-width="0.4"/>
  <circle cx="576.7" cy="416.2" r="3.3" fill="#c48c78"/>
  <path d="M569.6,408.6 L565.3,407.2 L561.5,404.7 L549.3,417.5 L551.9,419.7 L554.1,422.3 L558.1,422.0 L560.6,424.5 L563.7,426.3 L567.1,426.5 Z" fill="#dfb7a1" stroke="#d9ae98" stroke-width="0.4"/>
  <circle cx="561.9" cy="414.1" r="3.3" fill="#c48c78"/>
  <path d="M560.5,403.7 L557.9,400.1 L556.4,395.9 L537.9,399.3 L538.1,402.8 L539.5,406.0 L541.1,409.1 L543.4,411.6 L544.6,415.0 L547.1,417.3 Z" fill="#dfb7a1" stroke="#d9ae98" stroke-width="0.4"/>
  <circle cx="550.7" cy="403.9" r="3.3" fill="#c48c78"/>
  <path d="M556.1,394.6 L556.2,390.1 L557.4,385.8 L540.2,377.6 L539.0,380.8 L537.8,384.0 L537.4,387.5 L537.2,390.9 L536.7,394.3 L538.3,397.6 Z" fill="#dfb7a1" stroke="#d9ae98" stroke-width="0.4"/>
  <circle cx="548.1" cy="389.0" r="3.3" fill="#c48c78"/>
  <circle cx="572.4" cy="392.4" r="16.9" fill="#fdf1ef" stroke="#a7a19e" stroke-width="1.2"/>
  <path d="M501.5,393.5 L505.5,392.3 L507.8,397.6 L504.8,400.2 L501.6,399 Z" fill="#ffffff" stroke="#d8d2d0" stroke-width="0.5" stroke-linejoin="round"/>
  <path d="M488.6,401.6 C490,400.3 493,400.6 496,401.2 C497.5,401.5 497.6,403.6 496,404.1 C493,404.8 490,404.6 488.8,403.8 C488,403.2 488,402.2 488.6,401.6 Z" fill="#ffffff" stroke="#d8d2d0" stroke-width="0.5"/>
  <path d="M572,383.5 C574,381.5 578,382 579.5,384.5 C580.8,386.7 581.6,389.5 580.3,391.8 C579,393.8 575.5,394.2 573.3,393 C571.5,392 571,389 571.2,387 C571.3,385.6 571.3,384.4 572,383.5 Z" fill="#ffffff" stroke="#b9b3b1" stroke-width="0.8"/>
</g>
<g id="glom">
  <path d="M658.5,446.9 L658.3,452.3 L657.6,456.3 L656.3,459.7 L654.6,462.8 L652.4,465.5 L649.7,467.9 L646.6,469.9 L643.0,471.6 L639.0,472.9 L634.4,473.8 L629.2,474.4 L622.1,474.6 L614.9,474.4 L609.7,473.8 L605.1,472.9 L601.1,471.6 L597.5,469.9 L594.4,467.9 L591.7,465.5 L589.5,462.8 L587.8,459.7 L586.5,456.3 L585.8,452.3 L585.5,446.9 L585.8,441.5 L586.5,437.5 L587.8,434.1 L589.5,431.0 L591.7,428.3 L594.4,425.9 L597.5,423.9 L601.1,422.2 L605.1,420.9 L609.7,420.0 L614.9,419.4 L622.0,419.2 L629.2,419.4 L634.4,420.0 L639.0,420.9 L643.0,422.2 L646.6,423.9 L649.7,425.9 L652.4,428.3 L654.6,431.0 L656.3,434.1 L657.6,437.5 L658.3,441.5 Z" fill="#f2bb50"/>
  <path d="M616.6,402.8 H626.2 V417 C626.4,419.5 628.5,421 632,421.6 L612,421.6 C615,421 616.5,419.5 616.6,417 Z" fill="#f2bb50"/>
  <path d="M655.2,445.5 L655.0,450.2 L654.3,453.6 L653.2,456.6 L651.7,459.3 L649.7,461.6 L647.4,463.7 L644.6,465.4 L641.5,466.9 L637.9,468.0 L633.9,468.8 L629.2,469.3 L622.9,469.5 L616.6,469.3 L611.9,468.8 L607.9,468.0 L604.3,466.9 L601.2,465.4 L598.4,463.7 L596.1,461.6 L594.1,459.3 L592.6,456.6 L591.5,453.6 L590.8,450.2 L590.6,445.5 L590.8,440.8 L591.5,437.4 L592.6,434.4 L594.1,431.7 L596.1,429.4 L598.4,427.3 L601.2,425.6 L604.3,424.1 L607.9,423.0 L611.9,422.2 L616.6,421.7 L622.9,421.5 L629.2,421.7 L633.9,422.2 L637.9,423.0 L641.5,424.1 L644.6,425.6 L647.4,427.3 L649.7,429.4 L651.7,431.7 L653.2,434.4 L654.3,437.4 L655.0,440.8 Z" fill="#c99878"/>
  <path d="M619.8,402.8 H623.6 V420 C623.8,422 625.5,423.5 628,424.5 L615.5,424.5 C618,423.5 619.6,422 619.8,420 Z" fill="#c99878"/>
  <path d="M611.5,431.5 C617,426.6 633,426.2 640,431.6" fill="none" stroke="#b25a40" stroke-width="4.4" stroke-linecap="round"/>
  <path d="M613.5,430.6 C619,427.4 631,427.2 638,430.8" fill="none" stroke="#a8452f" stroke-width="1.6" stroke-linecap="round"/>
  <path d="M599.5,447 C598.5,440 604,434.5 611,433.4 C620,432 632,434 641,437.4 C647.5,440 648.8,447 646.4,453 C644,459 637,462.6 630,461.4 C625.6,460.6 623.4,457 622.2,453" fill="none" stroke="#fcc69c" stroke-width="7.2" stroke-linecap="round" stroke-linejoin="round"/>
  <path d="M599.5,447 C600,454 603.6,460.4 610,462.4 C616,464.2 620.6,461.6 621.6,456.4 C622.6,451 618.6,446 614.6,442.6" fill="none" stroke="#fcc69c" stroke-width="7.2" stroke-linecap="round" stroke-linejoin="round"/>
  <path d="M613,436 C620,440 628,446.4 632,452" fill="none" stroke="#fcc69c" stroke-width="7.2" stroke-linecap="round" stroke-linejoin="round"/>
  <path d="M604.5,440.5 C608.5,446 612.5,452 616.5,458.5" fill="none" stroke="#fcc69c" stroke-width="7.2" stroke-linecap="round" stroke-linejoin="round"/>
  <path d="M599.5,447 C598.5,440 604,434.5 611,433.4 C620,432 632,434 641,437.4 C647.5,440 648.8,447 646.4,453 C644,459 637,462.6 630,461.4 C625.6,460.6 623.4,457 622.2,453" fill="none" stroke="#c4473d" stroke-width="4.4" stroke-linecap="round" stroke-linejoin="round" opacity="0.28"/>
  <path d="M599.5,447 C600,454 603.6,460.4 610,462.4 C616,464.2 620.6,461.6 621.6,456.4 C622.6,451 618.6,446 614.6,442.6" fill="none" stroke="#c4473d" stroke-width="4.4" stroke-linecap="round" stroke-linejoin="round" opacity="0.28"/>
  <path d="M613,436 C620,440 628,446.4 632,452" fill="none" stroke="#c4473d" stroke-width="4.4" stroke-linecap="round" stroke-linejoin="round" opacity="0.28"/>
  <path d="M604.5,440.5 C608.5,446 612.5,452 616.5,458.5" fill="none" stroke="#c4473d" stroke-width="4.4" stroke-linecap="round" stroke-linejoin="round" opacity="0.28"/>
  <ellipse cx="631.4" cy="442.6" rx="11.6" ry="4.2" transform="rotate(10 631.4 442.6)" fill="#c99274"/>
  <path d="M620,437.6 C627,438.4 637,442.4 643.6,447" fill="none" stroke="#9d2a27" stroke-width="2.6" stroke-linecap="round"/>
  <ellipse cx="611.4" cy="441.2" rx="4" ry="2.8" transform="rotate(25 611.4 441.2)" fill="#c99274"/>
  <path d="M604.6,445.6 L608.6,450.6 L604.8,452.6 Z" fill="#c99274" stroke="#c99274" stroke-width="1" stroke-linejoin="round"/>
  <ellipse cx="612" cy="458" rx="3.6" ry="2.6" transform="rotate(15 612 458)" fill="#c99274"/>
  <path d="M629,455.6 C634,452.6 641,452.6 645,456 C643,461 636,464 630.6,462.4" fill="#b4533c"/>
  <path d="M627.6,452.6 C632,450.6 640,450.6 645.6,453.6" fill="none" stroke="#9d2a27" stroke-width="2.2" stroke-linecap="round"/>
  <g opacity="0.85"><circle cx="606.4" cy="435.5" r="1.09" fill="#b8352f"/><circle cx="599.4" cy="448.9" r="0.54" fill="#a32424"/><circle cx="597.4" cy="446.5" r="0.58" fill="#a32424"/><circle cx="598.8" cy="445.3" r="1.19" fill="#8f1d1f"/><circle cx="600.2" cy="444.4" r="0.60" fill="#b12c2b"/><circle cx="610.2" cy="432.5" r="1.29" fill="#a32424"/><circle cx="601.0" cy="443.1" r="0.66" fill="#a32424"/><circle cx="609.5" cy="434.5" r="0.63" fill="#a32424"/><circle cx="598.9" cy="441.0" r="0.50" fill="#c0403a"/><circle cx="596.8" cy="445.9" r="0.75" fill="#8f1d1f"/><circle cx="601.2" cy="438.5" r="0.52" fill="#c0403a"/><circle cx="609.5" cy="433.3" r="0.80" fill="#b12c2b"/><circle cx="599.7" cy="439.3" r="0.60" fill="#a32424"/><circle cx="608.7" cy="434.8" r="0.92" fill="#8f1d1f"/><circle cx="602.0" cy="445.4" r="1.26" fill="#b12c2b"/><circle cx="598.1" cy="445.3" r="1.24" fill="#b8352f"/><circle cx="599.8" cy="443.9" r="1.00" fill="#c0403a"/><circle cx="608.9" cy="432.3" r="0.98" fill="#8f1d1f"/><circle cx="596.9" cy="447.1" r="0.84" fill="#b12c2b"/><circle cx="611.9" cy="431.3" r="0.67" fill="#b8352f"/><circle cx="609.2" cy="433.9" r="0.62" fill="#8f1d1f"/><circle cx="598.1" cy="439.3" r="0.64" fill="#b8352f"/><circle cx="600.7" cy="440.7" r="0.72" fill="#8f1d1f"/><circle cx="600.8" cy="440.2" r="0.93" fill="#a32424"/><circle cx="605.2" cy="438.8" r="0.89" fill="#b8352f"/><circle cx="606.9" cy="434.0" r="0.78" fill="#b8352f"/><circle cx="604.2" cy="434.5" r="0.72" fill="#8f1d1f"/><circle cx="598.4" cy="444.3" r="0.64" fill="#b12c2b"/><circle cx="601.7" cy="439.7" r="0.73" fill="#b8352f"/><circle cx="603.5" cy="435.0" r="1.09" fill="#8f1d1f"/><circle cx="601.7" cy="442.9" r="1.28" fill="#c0403a"/><circle cx="603.2" cy="436.9" r="1.18" fill="#c0403a"/><circle cx="605.3" cy="434.6" r="0.96" fill="#8f1d1f"/><circle cx="602.6" cy="441.5" r="0.63" fill="#8f1d1f"/><circle cx="604.4" cy="437.4" r="1.00" fill="#b12c2b"/><circle cx="610.0" cy="434.0" r="0.59" fill="#a32424"/><circle cx="603.0" cy="437.0" r="1.03" fill="#b12c2b"/><circle cx="605.1" cy="435.1" r="0.78" fill="#c0403a"/><circle cx="610.3" cy="434.8" r="1.27" fill="#b8352f"/><circle cx="605.1" cy="436.6" r="1.26" fill="#c0403a"/><circle cx="609.5" cy="435.0" r="1.01" fill="#c0403a"/><circle cx="603.7" cy="439.3" r="1.27" fill="#a32424"/><circle cx="602.4" cy="434.3" r="0.81" fill="#c0403a"/><circle cx="602.2" cy="438.0" r="0.95" fill="#8f1d1f"/><circle cx="603.2" cy="438.8" r="1.07" fill="#8f1d1f"/><circle cx="610.3" cy="431.5" r="1.28" fill="#8f1d1f"/><circle cx="598.6" cy="442.2" r="0.89" fill="#c0403a"/><circle cx="600.1" cy="444.7" r="0.85" fill="#c0403a"/><circle cx="596.8" cy="446.0" r="0.93" fill="#c0403a"/><circle cx="599.9" cy="444.7" r="0.71" fill="#a32424"/><circle cx="604.6" cy="434.5" r="0.88" fill="#b8352f"/><circle cx="608.2" cy="433.6" r="0.73" fill="#c0403a"/><circle cx="630.7" cy="432.9" r="1.10" fill="#b8352f"/><circle cx="615.9" cy="432.7" r="1.23" fill="#b8352f"/><circle cx="614.2" cy="434.1" r="0.96" fill="#8f1d1f"/><circle cx="636.3" cy="434.5" r="1.08" fill="#c0403a"/><circle cx="623.6" cy="433.4" r="1.12" fill="#b8352f"/><circle cx="621.1" cy="435.2" r="0.88" fill="#b8352f"/><circle cx="636.2" cy="437.2" r="0.93" fill="#b12c2b"/><circle cx="611.8" cy="432.5" r="0.55" fill="#b12c2b"/><circle cx="623.8" cy="433.0" r="1.06" fill="#b12c2b"/><circle cx="615.1" cy="433.9" r="1.26" fill="#a32424"/><circle cx="640.1" cy="436.8" r="0.83" fill="#a32424"/><circle cx="612.3" cy="432.8" r="0.80" fill="#b12c2b"/><circle cx="617.4" cy="434.6" r="0.61" fill="#8f1d1f"/><circle cx="615.2" cy="432.4" r="0.80" fill="#b12c2b"/><circle cx="614.3" cy="432.3" r="0.90" fill="#b8352f"/><circle cx="628.7" cy="434.2" r="0.70" fill="#c0403a"/><circle cx="624.8" cy="435.6" r="0.86" fill="#8f1d1f"/><circle cx="614.2" cy="431.8" r="1.03" fill="#b12c2b"/><circle cx="638.0" cy="435.3" r="0.88" fill="#c0403a"/><circle cx="615.4" cy="431.8" r="1.18" fill="#8f1d1f"/><circle cx="629.6" cy="433.4" r="1.23" fill="#8f1d1f"/><circle cx="637.5" cy="434.1" r="1.17" fill="#c0403a"/><circle cx="618.9" cy="434.8" r="1.08" fill="#c0403a"/><circle cx="628.7" cy="436.7" r="0.53" fill="#b8352f"/><circle cx="615.9" cy="432.1" r="0.53" fill="#a32424"/><circle cx="613.8" cy="433.3" r="1.11" fill="#b12c2b"/><circle cx="621.7" cy="431.4" r="0.84" fill="#8f1d1f"/><circle cx="624.3" cy="432.7" r="0.80" fill="#8f1d1f"/><circle cx="637.3" cy="437.1" r="0.72" fill="#a32424"/><circle cx="633.3" cy="435.5" r="0.78" fill="#c0403a"/><circle cx="621.3" cy="435.0" r="0.88" fill="#a32424"/><circle cx="613.7" cy="431.9" r="1.08" fill="#a32424"/><circle cx="613.0" cy="434.9" r="0.99" fill="#c0403a"/><circle cx="632.0" cy="433.0" r="1.09" fill="#8f1d1f"/><circle cx="615.4" cy="432.0" r="0.54" fill="#b8352f"/><circle cx="624.3" cy="433.5" r="1.12" fill="#8f1d1f"/><circle cx="613.9" cy="433.1" r="0.92" fill="#c0403a"/><circle cx="639.0" cy="437.9" r="0.57" fill="#8f1d1f"/><circle cx="614.6" cy="433.2" r="1.13" fill="#b12c2b"/><circle cx="617.3" cy="431.7" r="1.20" fill="#a32424"/><circle cx="616.2" cy="434.0" r="1.24" fill="#b12c2b"/><circle cx="612.1" cy="434.7" r="0.67" fill="#b12c2b"/><circle cx="622.6" cy="432.6" r="0.80" fill="#a32424"/><circle cx="634.8" cy="433.5" r="1.30" fill="#b8352f"/><circle cx="614.6" cy="431.3" r="0.71" fill="#8f1d1f"/><circle cx="622.0" cy="432.7" r="1.06" fill="#8f1d1f"/><circle cx="641.4" cy="437.0" r="0.70" fill="#a32424"/><circle cx="637.7" cy="436.7" r="1.12" fill="#8f1d1f"/><circle cx="635.4" cy="437.5" r="1.11" fill="#b8352f"/><circle cx="613.2" cy="435.4" r="1.26" fill="#b12c2b"/><circle cx="632.6" cy="434.0" r="0.95" fill="#c0403a"/><circle cx="613.7" cy="433.2" r="0.76" fill="#b12c2b"/><circle cx="641.6" cy="437.8" r="0.60" fill="#c0403a"/><circle cx="644.4" cy="441.0" r="0.68" fill="#8f1d1f"/><circle cx="641.8" cy="438.5" r="0.97" fill="#a32424"/><circle cx="648.5" cy="448.7" r="1.00" fill="#a32424"/><circle cx="648.6" cy="444.7" r="0.75" fill="#a32424"/><circle cx="647.7" cy="443.6" r="1.03" fill="#a32424"/><circle cx="648.8" cy="445.7" r="1.15" fill="#8f1d1f"/><circle cx="644.6" cy="446.6" r="0.96" fill="#8f1d1f"/><circle cx="647.8" cy="449.1" r="0.72" fill="#a32424"/><circle cx="646.1" cy="438.4" r="0.79" fill="#a32424"/><circle cx="649.0" cy="448.4" r="0.61" fill="#a32424"/><circle cx="647.6" cy="443.3" r="1.10" fill="#c0403a"/><circle cx="646.9" cy="453.7" r="0.88" fill="#8f1d1f"/><circle cx="649.0" cy="448.7" r="0.51" fill="#b8352f"/><circle cx="644.9" cy="445.4" r="1.04" fill="#b8352f"/><circle cx="643.9" cy="440.4" r="1.05" fill="#8f1d1f"/><circle cx="646.0" cy="454.5" r="0.79" fill="#b8352f"/><circle cx="640.3" cy="437.0" r="0.57" fill="#c0403a"/><circle cx="648.6" cy="445.3" r="0.72" fill="#a32424"/><circle cx="640.2" cy="438.6" r="1.22" fill="#b8352f"/><circle cx="646.0" cy="444.9" r="0.60" fill="#c0403a"/><circle cx="648.1" cy="452.6" r="0.81" fill="#a32424"/><circle cx="649.6" cy="450.3" r="0.81" fill="#b12c2b"/><circle cx="648.2" cy="450.8" r="0.74" fill="#c0403a"/><circle cx="646.0" cy="446.8" r="1.01" fill="#a32424"/><circle cx="646.0" cy="441.2" r="1.01" fill="#b8352f"/><circle cx="646.4" cy="448.1" r="0.98" fill="#a32424"/><circle cx="646.1" cy="440.3" r="0.76" fill="#8f1d1f"/><circle cx="642.8" cy="438.1" r="0.95" fill="#8f1d1f"/><circle cx="645.0" cy="441.3" r="1.08" fill="#b12c2b"/><circle cx="644.2" cy="452.8" r="0.75" fill="#8f1d1f"/><circle cx="649.6" cy="448.3" r="1.14" fill="#b12c2b"/><circle cx="641.5" cy="436.7" r="0.79" fill="#b12c2b"/><circle cx="648.3" cy="443.0" r="1.14" fill="#b8352f"/><circle cx="646.1" cy="453.6" r="0.66" fill="#c0403a"/><circle cx="649.0" cy="441.7" r="1.11" fill="#a32424"/><circle cx="647.5" cy="443.3" r="0.98" fill="#c0403a"/><circle cx="641.6" cy="439.1" r="1.26" fill="#b12c2b"/><circle cx="647.2" cy="443.2" r="1.30" fill="#a32424"/><circle cx="647.7" cy="451.0" r="1.01" fill="#b12c2b"/><circle cx="648.8" cy="444.7" r="0.55" fill="#8f1d1f"/><circle cx="641.5" cy="440.8" r="1.08" fill="#a32424"/><circle cx="646.9" cy="439.6" r="0.64" fill="#8f1d1f"/><circle cx="647.7" cy="449.7" r="1.15" fill="#b12c2b"/><circle cx="645.9" cy="449.5" r="0.70" fill="#8f1d1f"/><circle cx="646.6" cy="451.6" r="1.28" fill="#8f1d1f"/><circle cx="643.6" cy="439.2" r="1.17" fill="#8f1d1f"/><circle cx="647.0" cy="445.0" r="0.90" fill="#b8352f"/><circle cx="647.7" cy="451.4" r="1.08" fill="#8f1d1f"/><circle cx="647.2" cy="450.9" r="0.63" fill="#c0403a"/><circle cx="642.0" cy="439.1" r="1.30" fill="#a32424"/><circle cx="647.6" cy="442.0" r="0.73" fill="#b12c2b"/><circle cx="634.5" cy="460.8" r="0.53" fill="#8f1d1f"/><circle cx="632.4" cy="463.8" r="0.90" fill="#c0403a"/><circle cx="636.6" cy="459.9" r="0.79" fill="#b8352f"/><circle cx="643.9" cy="452.2" r="0.61" fill="#c0403a"/><circle cx="643.5" cy="458.2" r="1.28" fill="#b8352f"/><circle cx="646.3" cy="454.1" r="0.74" fill="#8f1d1f"/><circle cx="639.2" cy="463.3" r="0.95" fill="#c0403a"/><circle cx="644.7" cy="451.5" r="0.88" fill="#b12c2b"/><circle cx="647.9" cy="453.2" r="0.99" fill="#c0403a"/><circle cx="646.4" cy="453.6" r="0.78" fill="#b12c2b"/><circle cx="637.9" cy="459.0" r="1.24" fill="#c0403a"/><circle cx="640.8" cy="459.6" r="1.26" fill="#8f1d1f"/><circle cx="643.9" cy="459.6" r="1.02" fill="#b12c2b"/><circle cx="634.7" cy="461.3" r="1.15" fill="#c0403a"/><circle cx="632.0" cy="461.0" r="0.50" fill="#b8352f"/><circle cx="644.3" cy="455.8" r="0.59" fill="#a32424"/><circle cx="641.8" cy="459.8" r="1.13" fill="#b12c2b"/><circle cx="645.3" cy="455.8" r="1.00" fill="#a32424"/><circle cx="637.6" cy="458.8" r="0.98" fill="#b8352f"/><circle cx="647.9" cy="454.0" r="0.53" fill="#b8352f"/><circle cx="640.5" cy="459.5" r="0.83" fill="#b8352f"/><circle cx="638.5" cy="462.5" r="1.06" fill="#b8352f"/><circle cx="646.4" cy="452.4" r="0.92" fill="#b8352f"/><circle cx="637.0" cy="464.0" r="0.72" fill="#8f1d1f"/><circle cx="634.6" cy="463.1" r="1.20" fill="#c0403a"/><circle cx="640.6" cy="461.5" r="0.67" fill="#c0403a"/><circle cx="641.9" cy="456.5" r="1.30" fill="#8f1d1f"/><circle cx="641.6" cy="460.0" r="0.89" fill="#b8352f"/><circle cx="642.6" cy="461.6" r="0.71" fill="#8f1d1f"/><circle cx="640.9" cy="461.6" r="0.84" fill="#c0403a"/><circle cx="634.1" cy="463.6" r="0.84" fill="#b8352f"/><circle cx="641.4" cy="455.2" r="1.12" fill="#c0403a"/><circle cx="643.3" cy="453.3" r="0.54" fill="#b8352f"/><circle cx="641.7" cy="461.1" r="0.83" fill="#c0403a"/><circle cx="632.3" cy="460.9" r="0.83" fill="#8f1d1f"/><circle cx="646.6" cy="454.3" r="0.58" fill="#b8352f"/><circle cx="641.7" cy="460.5" r="0.52" fill="#b8352f"/><circle cx="640.2" cy="458.2" r="0.79" fill="#b12c2b"/><circle cx="640.5" cy="458.6" r="0.99" fill="#b12c2b"/><circle cx="645.5" cy="456.1" r="0.94" fill="#8f1d1f"/><circle cx="647.1" cy="454.8" r="1.23" fill="#c0403a"/><circle cx="631.6" cy="461.3" r="1.25" fill="#8f1d1f"/><circle cx="643.0" cy="456.5" r="0.70" fill="#8f1d1f"/><circle cx="641.3" cy="458.1" r="1.06" fill="#b12c2b"/><circle cx="640.4" cy="458.6" r="0.57" fill="#8f1d1f"/><circle cx="645.1" cy="459.4" r="1.06" fill="#b12c2b"/><circle cx="642.5" cy="455.7" r="0.93" fill="#b8352f"/><circle cx="646.5" cy="455.8" r="1.01" fill="#8f1d1f"/><circle cx="634.5" cy="462.4" r="0.73" fill="#b8352f"/><circle cx="641.5" cy="457.7" r="0.73" fill="#a32424"/><circle cx="634.5" cy="461.6" r="0.75" fill="#8f1d1f"/><circle cx="634.7" cy="459.6" r="0.87" fill="#b8352f"/><circle cx="625.8" cy="458.3" r="0.50" fill="#8f1d1f"/><circle cx="622.6" cy="455.5" r="0.88" fill="#b12c2b"/><circle cx="621.6" cy="458.4" r="0.69" fill="#8f1d1f"/><circle cx="624.9" cy="455.7" r="1.02" fill="#b12c2b"/><circle cx="627.6" cy="462.6" r="0.90" fill="#8f1d1f"/><circle cx="626.0" cy="455.9" r="0.98" fill="#8f1d1f"/><circle cx="625.9" cy="456.0" r="0.50" fill="#8f1d1f"/><circle cx="628.9" cy="460.3" r="0.64" fill="#8f1d1f"/><circle cx="620.9" cy="454.0" r="0.52" fill="#b8352f"/><circle cx="623.6" cy="457.6" r="1.29" fill="#a32424"/><circle cx="621.3" cy="453.2" r="1.21" fill="#a32424"/><circle cx="626.8" cy="460.3" r="0.65" fill="#8f1d1f"/><circle cx="626.8" cy="461.9" r="0.67" fill="#8f1d1f"/><circle cx="621.0" cy="453.9" r="0.86" fill="#a32424"/><circle cx="625.3" cy="454.7" r="1.23" fill="#8f1d1f"/><circle cx="623.6" cy="457.3" r="0.97" fill="#b12c2b"/><circle cx="626.5" cy="459.8" r="0.98" fill="#c0403a"/><circle cx="622.0" cy="454.9" r="1.06" fill="#b12c2b"/><circle cx="624.8" cy="453.4" r="0.76" fill="#b12c2b"/><circle cx="625.5" cy="458.7" r="0.98" fill="#8f1d1f"/><circle cx="625.6" cy="462.7" r="1.28" fill="#8f1d1f"/><circle cx="629.9" cy="460.5" r="0.51" fill="#8f1d1f"/><circle cx="629.1" cy="459.8" r="0.57" fill="#b8352f"/><circle cx="628.5" cy="458.6" r="0.76" fill="#b12c2b"/><circle cx="624.3" cy="461.8" r="1.11" fill="#b12c2b"/><circle cx="629.1" cy="462.3" r="0.84" fill="#b8352f"/><circle cx="628.3" cy="459.2" r="1.20" fill="#b12c2b"/><circle cx="625.0" cy="454.8" r="0.58" fill="#c0403a"/><circle cx="623.6" cy="457.8" r="0.67" fill="#b12c2b"/><circle cx="627.8" cy="458.7" r="0.53" fill="#8f1d1f"/><circle cx="622.0" cy="457.7" r="0.75" fill="#8f1d1f"/><circle cx="624.5" cy="456.1" r="0.91" fill="#8f1d1f"/><circle cx="627.3" cy="458.0" r="0.84" fill="#a32424"/><circle cx="628.2" cy="463.8" r="0.79" fill="#b8352f"/><circle cx="623.4" cy="453.4" r="1.09" fill="#b12c2b"/><circle cx="623.8" cy="457.4" r="1.00" fill="#c0403a"/><circle cx="626.0" cy="458.8" r="0.63" fill="#c0403a"/><circle cx="622.7" cy="456.3" r="1.18" fill="#a32424"/><circle cx="628.3" cy="460.9" r="0.85" fill="#c0403a"/><circle cx="628.7" cy="458.4" r="0.81" fill="#8f1d1f"/><circle cx="621.9" cy="453.9" r="0.93" fill="#c0403a"/><circle cx="623.8" cy="460.0" r="1.05" fill="#c0403a"/><circle cx="628.3" cy="461.4" r="0.86" fill="#c0403a"/><circle cx="627.3" cy="461.6" r="0.69" fill="#8f1d1f"/><circle cx="622.2" cy="457.2" r="0.75" fill="#c0403a"/><circle cx="627.1" cy="459.3" r="0.54" fill="#8f1d1f"/><circle cx="631.4" cy="461.8" r="0.68" fill="#c0403a"/><circle cx="621.6" cy="455.3" r="1.06" fill="#a32424"/><circle cx="629.3" cy="460.5" r="1.01" fill="#b8352f"/><circle cx="622.4" cy="456.5" r="0.64" fill="#c0403a"/><circle cx="626.4" cy="459.0" r="0.89" fill="#b12c2b"/><circle cx="624.8" cy="453.5" r="1.08" fill="#b8352f"/><circle cx="599.0" cy="451.2" r="0.71" fill="#8f1d1f"/><circle cx="601.1" cy="447.4" r="0.69" fill="#b8352f"/><circle cx="603.3" cy="454.5" r="0.81" fill="#c0403a"/><circle cx="599.9" cy="455.0" r="0.74" fill="#a32424"/><circle cx="603.7" cy="459.3" r="0.74" fill="#a32424"/><circle cx="598.5" cy="450.7" r="0.73" fill="#a32424"/><circle cx="600.9" cy="451.7" r="1.06" fill="#b8352f"/><circle cx="601.6" cy="454.4" r="0.56" fill="#a32424"/><circle cx="605.0" cy="459.7" r="0.95" fill="#b8352f"/><circle cx="611.1" cy="462.8" r="0.98" fill="#c0403a"/><circle cx="599.3" cy="452.8" r="0.77" fill="#a32424"/><circle cx="603.8" cy="457.2" r="1.17" fill="#8f1d1f"/><circle cx="600.3" cy="451.7" r="0.72" fill="#c0403a"/><circle cx="600.7" cy="449.5" r="0.69" fill="#b8352f"/><circle cx="598.5" cy="453.4" r="1.15" fill="#b12c2b"/><circle cx="599.8" cy="457.9" r="1.21" fill="#8f1d1f"/><circle cx="606.5" cy="462.7" r="0.99" fill="#b12c2b"/><circle cx="599.6" cy="449.9" r="0.79" fill="#b8352f"/><circle cx="607.4" cy="463.6" r="1.07" fill="#a32424"/><circle cx="602.0" cy="457.8" r="0.83" fill="#8f1d1f"/><circle cx="605.2" cy="456.5" r="1.25" fill="#8f1d1f"/><circle cx="605.4" cy="455.9" r="1.07" fill="#a32424"/><circle cx="597.6" cy="448.2" r="1.13" fill="#a32424"/><circle cx="598.6" cy="450.1" r="1.16" fill="#b12c2b"/><circle cx="609.9" cy="460.2" r="1.10" fill="#c0403a"/><circle cx="605.4" cy="458.9" r="1.01" fill="#c0403a"/><circle cx="607.0" cy="459.6" r="1.03" fill="#b8352f"/><circle cx="601.5" cy="453.4" r="0.66" fill="#b8352f"/><circle cx="609.0" cy="464.9" r="1.04" fill="#8f1d1f"/><circle cx="601.8" cy="459.5" r="0.76" fill="#c0403a"/><circle cx="600.7" cy="451.8" r="0.62" fill="#c0403a"/><circle cx="602.5" cy="450.5" r="0.70" fill="#c0403a"/><circle cx="598.6" cy="448.9" r="1.00" fill="#b12c2b"/><circle cx="600.2" cy="449.2" r="0.62" fill="#a32424"/><circle cx="600.4" cy="453.8" r="0.84" fill="#b12c2b"/><circle cx="600.7" cy="447.1" r="0.51" fill="#c0403a"/><circle cx="600.8" cy="459.1" r="0.62" fill="#b8352f"/><circle cx="606.9" cy="461.7" r="0.92" fill="#8f1d1f"/><circle cx="601.5" cy="456.1" r="0.56" fill="#8f1d1f"/><circle cx="601.9" cy="449.4" r="0.81" fill="#a32424"/><circle cx="603.4" cy="460.5" r="0.62" fill="#b12c2b"/><circle cx="601.1" cy="447.1" r="0.87" fill="#b8352f"/><circle cx="600.2" cy="454.6" r="0.68" fill="#8f1d1f"/><circle cx="603.3" cy="457.1" r="1.27" fill="#b8352f"/><circle cx="601.2" cy="452.4" r="1.25" fill="#a32424"/><circle cx="600.9" cy="446.7" r="0.62" fill="#c0403a"/><circle cx="602.6" cy="450.7" r="0.68" fill="#8f1d1f"/><circle cx="602.5" cy="456.3" r="0.79" fill="#b12c2b"/><circle cx="607.2" cy="461.7" r="1.03" fill="#c0403a"/><circle cx="607.2" cy="460.4" r="1.02" fill="#c0403a"/><circle cx="606.4" cy="457.5" r="1.13" fill="#a32424"/><circle cx="601.2" cy="456.0" r="0.83" fill="#a32424"/><circle cx="617.4" cy="460.9" r="1.12" fill="#8f1d1f"/><circle cx="621.9" cy="461.2" r="1.30" fill="#c0403a"/><circle cx="615.1" cy="461.6" r="0.75" fill="#a32424"/><circle cx="616.4" cy="461.6" r="0.75" fill="#c0403a"/><circle cx="614.1" cy="460.8" r="0.57" fill="#8f1d1f"/><circle cx="616.3" cy="463.3" r="0.76" fill="#8f1d1f"/><circle cx="618.7" cy="460.2" r="0.85" fill="#c0403a"/><circle cx="621.9" cy="459.9" r="0.65" fill="#8f1d1f"/><circle cx="622.3" cy="460.8" r="1.06" fill="#b12c2b"/><circle cx="619.8" cy="455.9" r="1.21" fill="#b12c2b"/><circle cx="619.7" cy="462.5" r="1.05" fill="#c0403a"/><circle cx="615.3" cy="464.9" r="0.61" fill="#8f1d1f"/><circle cx="613.7" cy="465.1" r="0.71" fill="#c0403a"/><circle cx="608.5" cy="463.0" r="0.95" fill="#a32424"/><circle cx="612.2" cy="461.7" r="0.58" fill="#8f1d1f"/><circle cx="618.8" cy="457.0" r="0.90" fill="#8f1d1f"/><circle cx="609.9" cy="461.5" r="0.71" fill="#b8352f"/><circle cx="622.3" cy="460.3" r="0.59" fill="#a32424"/><circle cx="620.2" cy="456.8" r="1.15" fill="#a32424"/><circle cx="619.5" cy="459.9" r="0.56" fill="#8f1d1f"/><circle cx="621.7" cy="461.8" r="0.92" fill="#a32424"/><circle cx="617.1" cy="462.6" r="0.90" fill="#8f1d1f"/><circle cx="615.9" cy="462.8" r="0.79" fill="#b8352f"/><circle cx="622.4" cy="460.2" r="0.83" fill="#c0403a"/><circle cx="610.9" cy="462.5" r="0.64" fill="#c0403a"/><circle cx="616.5" cy="461.5" r="1.15" fill="#c0403a"/><circle cx="619.7" cy="456.8" r="0.84" fill="#b12c2b"/><circle cx="621.0" cy="458.2" r="0.93" fill="#a32424"/><circle cx="613.8" cy="465.4" r="0.81" fill="#b12c2b"/><circle cx="610.9" cy="463.3" r="0.62" fill="#a32424"/><circle cx="622.0" cy="456.6" r="0.81" fill="#b8352f"/><circle cx="616.3" cy="463.3" r="1.28" fill="#c0403a"/><circle cx="612.1" cy="461.4" r="0.68" fill="#b8352f"/><circle cx="614.1" cy="461.2" r="0.66" fill="#a32424"/><circle cx="610.4" cy="464.8" r="0.90" fill="#8f1d1f"/><circle cx="612.2" cy="460.7" r="0.97" fill="#b8352f"/><circle cx="612.7" cy="463.4" r="1.16" fill="#b12c2b"/><circle cx="622.1" cy="456.6" r="0.51" fill="#a32424"/><circle cx="620.6" cy="459.6" r="0.59" fill="#b12c2b"/><circle cx="620.1" cy="461.5" r="1.28" fill="#b8352f"/><circle cx="616.8" cy="461.2" r="1.25" fill="#a32424"/><circle cx="614.3" cy="463.1" r="1.20" fill="#b8352f"/><circle cx="618.5" cy="462.5" r="0.84" fill="#a32424"/><circle cx="611.5" cy="462.7" r="1.05" fill="#c0403a"/><circle cx="619.4" cy="456.1" r="1.03" fill="#c0403a"/><circle cx="610.8" cy="463.1" r="1.14" fill="#b12c2b"/><circle cx="613.8" cy="460.0" r="1.28" fill="#8f1d1f"/><circle cx="621.6" cy="455.0" r="1.12" fill="#c0403a"/><circle cx="613.6" cy="461.4" r="0.68" fill="#8f1d1f"/><circle cx="622.1" cy="459.9" r="0.71" fill="#c0403a"/><circle cx="621.3" cy="459.9" r="0.52" fill="#c0403a"/><circle cx="616.8" cy="463.5" r="0.50" fill="#8f1d1f"/><circle cx="616.8" cy="443.5" r="0.98" fill="#c0403a"/><circle cx="615.3" cy="446.4" r="1.12" fill="#b12c2b"/><circle cx="616.8" cy="446.1" r="1.16" fill="#a32424"/><circle cx="617.4" cy="443.4" r="0.56" fill="#c0403a"/><circle cx="620.4" cy="451.7" r="0.58" fill="#c0403a"/><circle cx="617.2" cy="444.2" r="0.65" fill="#a32424"/><circle cx="620.5" cy="451.4" r="1.02" fill="#c0403a"/><circle cx="619.4" cy="447.2" r="0.73" fill="#8f1d1f"/><circle cx="619.6" cy="449.8" r="0.79" fill="#a32424"/><circle cx="618.5" cy="449.1" r="0.84" fill="#8f1d1f"/><circle cx="621.0" cy="448.4" r="0.77" fill="#8f1d1f"/><circle cx="617.4" cy="444.1" r="0.74" fill="#b12c2b"/><circle cx="621.4" cy="448.4" r="0.90" fill="#b12c2b"/><circle cx="619.5" cy="446.4" r="0.85" fill="#b12c2b"/><circle cx="621.4" cy="450.9" r="0.78" fill="#b8352f"/><circle cx="621.9" cy="452.3" r="0.69" fill="#a32424"/><circle cx="620.7" cy="451.4" r="0.84" fill="#8f1d1f"/><circle cx="619.4" cy="446.1" r="1.19" fill="#a32424"/><circle cx="619.7" cy="445.6" r="0.74" fill="#a32424"/><circle cx="618.5" cy="443.9" r="0.99" fill="#b12c2b"/><circle cx="622.4" cy="453.3" r="1.22" fill="#8f1d1f"/><circle cx="615.7" cy="444.1" r="1.29" fill="#8f1d1f"/><circle cx="623.3" cy="454.1" r="0.62" fill="#c0403a"/><circle cx="617.3" cy="445.6" r="0.71" fill="#8f1d1f"/><circle cx="620.0" cy="452.9" r="0.82" fill="#8f1d1f"/><circle cx="619.6" cy="452.0" r="1.14" fill="#a32424"/><circle cx="622.8" cy="455.0" r="1.25" fill="#b12c2b"/><circle cx="621.3" cy="450.0" r="0.94" fill="#b8352f"/><circle cx="619.1" cy="445.8" r="0.81" fill="#a32424"/><circle cx="621.3" cy="452.9" r="1.21" fill="#8f1d1f"/><circle cx="621.1" cy="445.7" r="0.94" fill="#b8352f"/><circle cx="614.7" cy="444.8" r="1.06" fill="#c0403a"/><circle cx="621.9" cy="451.1" r="0.61" fill="#8f1d1f"/><circle cx="622.0" cy="447.9" r="0.75" fill="#a32424"/><circle cx="616.2" cy="445.5" r="1.21" fill="#a32424"/><circle cx="624.4" cy="452.3" r="0.92" fill="#8f1d1f"/><circle cx="620.7" cy="446.5" r="0.84" fill="#b12c2b"/><circle cx="616.2" cy="445.1" r="0.62" fill="#8f1d1f"/><circle cx="621.6" cy="455.4" r="0.77" fill="#a32424"/><circle cx="622.7" cy="449.2" r="0.73" fill="#c0403a"/><circle cx="614.7" cy="441.4" r="0.58" fill="#b12c2b"/><circle cx="620.7" cy="454.4" r="0.91" fill="#c0403a"/><circle cx="621.2" cy="447.7" r="1.20" fill="#a32424"/><circle cx="621.7" cy="450.7" r="0.62" fill="#b12c2b"/><circle cx="621.4" cy="455.7" r="0.94" fill="#8f1d1f"/><circle cx="615.8" cy="442.7" r="0.64" fill="#c0403a"/><circle cx="615.6" cy="444.3" r="0.85" fill="#a32424"/><circle cx="619.0" cy="452.5" r="1.06" fill="#a32424"/><circle cx="621.2" cy="455.8" r="0.99" fill="#c0403a"/><circle cx="622.4" cy="449.0" r="0.84" fill="#a32424"/><circle cx="623.8" cy="458.0" r="0.89" fill="#8f1d1f"/><circle cx="619.6" cy="455.6" r="1.22" fill="#b12c2b"/><circle cx="628.1" cy="446.0" r="0.89" fill="#c0403a"/><circle cx="629.7" cy="446.7" r="1.15" fill="#a32424"/><circle cx="620.6" cy="440.8" r="0.63" fill="#c0403a"/><circle cx="626.9" cy="446.0" r="1.13" fill="#b8352f"/><circle cx="624.2" cy="442.2" r="1.07" fill="#b12c2b"/><circle cx="614.5" cy="439.5" r="1.01" fill="#8f1d1f"/><circle cx="620.4" cy="438.0" r="0.62" fill="#8f1d1f"/><circle cx="626.3" cy="446.4" r="1.06" fill="#c0403a"/><circle cx="624.2" cy="444.8" r="1.26" fill="#c0403a"/><circle cx="620.1" cy="440.3" r="0.78" fill="#8f1d1f"/><circle cx="631.7" cy="450.4" r="0.69" fill="#a32424"/><circle cx="630.0" cy="449.8" r="1.05" fill="#c0403a"/><circle cx="631.9" cy="450.2" r="1.00" fill="#c0403a"/><circle cx="614.6" cy="436.2" r="1.16" fill="#a32424"/><circle cx="629.8" cy="453.4" r="0.59" fill="#a32424"/><circle cx="628.5" cy="449.2" r="0.66" fill="#a32424"/><circle cx="622.5" cy="443.8" r="0.99" fill="#c0403a"/><circle cx="624.7" cy="446.5" r="0.65" fill="#c0403a"/><circle cx="630.6" cy="450.2" r="0.74" fill="#b8352f"/><circle cx="622.1" cy="442.4" r="1.24" fill="#8f1d1f"/><circle cx="627.1" cy="448.3" r="0.94" fill="#c0403a"/><circle cx="621.7" cy="442.9" r="0.80" fill="#b12c2b"/><circle cx="617.8" cy="437.5" r="0.82" fill="#b12c2b"/><circle cx="629.9" cy="449.5" r="0.61" fill="#a32424"/><circle cx="621.3" cy="439.5" r="1.05" fill="#c0403a"/><circle cx="623.6" cy="444.7" r="1.04" fill="#b8352f"/><circle cx="622.6" cy="446.0" r="0.53" fill="#8f1d1f"/><circle cx="633.3" cy="450.6" r="1.10" fill="#c0403a"/><circle cx="628.4" cy="444.3" r="1.19" fill="#b12c2b"/><circle cx="631.1" cy="449.3" r="0.92" fill="#8f1d1f"/><circle cx="629.0" cy="446.1" r="0.97" fill="#8f1d1f"/><circle cx="626.0" cy="442.3" r="0.53" fill="#b12c2b"/><circle cx="615.4" cy="437.1" r="0.96" fill="#a32424"/><circle cx="626.0" cy="444.1" r="0.99" fill="#8f1d1f"/><circle cx="630.2" cy="450.8" r="1.27" fill="#b12c2b"/><circle cx="628.0" cy="447.6" r="0.55" fill="#8f1d1f"/><circle cx="622.9" cy="442.9" r="0.84" fill="#b8352f"/><circle cx="620.7" cy="440.4" r="0.59" fill="#b8352f"/><circle cx="631.1" cy="451.4" r="1.00" fill="#b8352f"/><circle cx="629.9" cy="445.8" r="1.29" fill="#c0403a"/><circle cx="617.3" cy="435.1" r="1.25" fill="#8f1d1f"/><circle cx="619.1" cy="440.1" r="1.22" fill="#c0403a"/><circle cx="629.8" cy="447.4" r="1.25" fill="#b8352f"/><circle cx="622.9" cy="443.9" r="0.71" fill="#8f1d1f"/><circle cx="629.7" cy="450.4" r="0.56" fill="#a32424"/><circle cx="632.9" cy="450.6" r="1.12" fill="#c0403a"/><circle cx="618.0" cy="440.0" r="0.78" fill="#b8352f"/><circle cx="624.3" cy="443.0" r="0.97" fill="#b12c2b"/><circle cx="626.9" cy="445.2" r="1.26" fill="#b12c2b"/><circle cx="613.4" cy="436.5" r="0.80" fill="#b12c2b"/><circle cx="618.1" cy="437.0" r="1.15" fill="#b12c2b"/><circle cx="614.5" cy="435.6" r="1.08" fill="#b8352f"/><circle cx="604.9" cy="441.2" r="1.07" fill="#b12c2b"/><circle cx="611.2" cy="452.5" r="0.73" fill="#a32424"/><circle cx="609.5" cy="449.3" r="0.71" fill="#b8352f"/><circle cx="607.9" cy="449.0" r="0.99" fill="#a32424"/><circle cx="606.3" cy="444.4" r="0.65" fill="#c0403a"/><circle cx="612.0" cy="449.8" r="0.68" fill="#b12c2b"/><circle cx="608.9" cy="445.9" r="0.82" fill="#b12c2b"/><circle cx="616.9" cy="457.8" r="1.26" fill="#8f1d1f"/><circle cx="615.2" cy="452.9" r="0.95" fill="#a32424"/><circle cx="612.0" cy="453.2" r="0.72" fill="#8f1d1f"/><circle cx="610.9" cy="453.9" r="0.72" fill="#b8352f"/><circle cx="608.7" cy="450.1" r="0.66" fill="#b12c2b"/><circle cx="615.4" cy="452.7" r="1.18" fill="#b8352f"/><circle cx="607.9" cy="447.7" r="1.22" fill="#c0403a"/><circle cx="606.5" cy="445.4" r="0.95" fill="#b12c2b"/><circle cx="610.6" cy="447.0" r="1.23" fill="#8f1d1f"/><circle cx="609.4" cy="445.6" r="0.65" fill="#a32424"/><circle cx="614.6" cy="458.8" r="0.88" fill="#b12c2b"/><circle cx="610.1" cy="445.5" r="1.05" fill="#a32424"/><circle cx="606.1" cy="443.0" r="0.95" fill="#c0403a"/><circle cx="606.5" cy="444.7" r="0.51" fill="#b12c2b"/><circle cx="605.9" cy="444.7" r="1.23" fill="#c0403a"/><circle cx="605.7" cy="446.8" r="1.04" fill="#b12c2b"/><circle cx="611.6" cy="451.1" r="1.25" fill="#b8352f"/><circle cx="606.6" cy="441.9" r="0.96" fill="#8f1d1f"/><circle cx="610.1" cy="449.3" r="0.77" fill="#a32424"/><circle cx="610.0" cy="447.2" r="0.54" fill="#b12c2b"/><circle cx="609.6" cy="451.3" r="1.19" fill="#b12c2b"/><circle cx="610.4" cy="447.9" r="1.23" fill="#c0403a"/><circle cx="606.0" cy="438.5" r="0.86" fill="#b8352f"/><circle cx="614.6" cy="456.4" r="0.59" fill="#b8352f"/><circle cx="607.9" cy="448.5" r="0.77" fill="#a32424"/><circle cx="611.8" cy="450.6" r="0.99" fill="#a32424"/><circle cx="614.3" cy="451.9" r="1.02" fill="#c0403a"/><circle cx="614.8" cy="458.9" r="0.76" fill="#8f1d1f"/><circle cx="611.6" cy="446.8" r="0.99" fill="#b12c2b"/><circle cx="611.0" cy="446.3" r="1.13" fill="#8f1d1f"/><circle cx="604.8" cy="442.4" r="1.01" fill="#8f1d1f"/><circle cx="615.3" cy="455.7" r="1.13" fill="#c0403a"/><circle cx="614.1" cy="451.1" r="1.18" fill="#8f1d1f"/><circle cx="611.6" cy="453.9" r="1.16" fill="#8f1d1f"/><circle cx="604.8" cy="440.8" r="0.97" fill="#b12c2b"/><circle cx="612.1" cy="451.8" r="0.70" fill="#b8352f"/><circle cx="609.7" cy="443.9" r="0.74" fill="#b12c2b"/><circle cx="604.3" cy="441.5" r="0.88" fill="#8f1d1f"/><circle cx="611.9" cy="453.0" r="0.91" fill="#b8352f"/><circle cx="611.7" cy="450.5" r="1.28" fill="#8f1d1f"/><circle cx="604.7" cy="443.1" r="0.68" fill="#b12c2b"/><circle cx="614.9" cy="457.3" r="0.51" fill="#b8352f"/><circle cx="613.2" cy="451.3" r="1.07" fill="#b12c2b"/><circle cx="612.0" cy="448.0" r="0.89" fill="#b8352f"/><circle cx="617.6" cy="455.4" r="0.85" fill="#c0403a"/></g>
  <path d="M621.6,464.5 C621,471 615,475.6 606,476.9 C600,477.7 595,477.9 591.2,477.9" fill="none" stroke="#a8262b" stroke-width="4.8" stroke-linecap="round"/>
  <path d="M625.6,464.5 C626.6,470.4 632,474.4 640,475.6 C645,476.3 649.6,476.5 653,476.6" fill="none" stroke="#a8262b" stroke-width="4.8" stroke-linecap="round"/>
  <path d="M621.9,467 C620.5,472 615,474.6 606,475.6 C600,476.3 595,476.5 592,476.5" fill="none" stroke="#c23a3c" stroke-width="1" stroke-linecap="round" opacity="0.8"/>
  <ellipse cx="590.8" cy="477.9" rx="1.4" ry="2" fill="#6f1216"/>
  <ellipse cx="653.6" cy="476.6" rx="1.4" ry="2" fill="#6f1216"/>
</g>
<g id="rbc" fill="#d0212c">
  <path d="M580,360.2 C581.5,358.6 583.2,358.2 584.6,358.8 C586,359.4 586.2,361.6 587.6,362 C589.2,362.4 590.8,362.4 592.4,363.4 C594.4,364.6 595.2,366.6 594.8,368.6 C594.2,371.2 592.6,373.2 591,375.4 C589.2,377.8 587,379.8 584,379.6 C581,379.4 577.6,378.4 576.8,376 C576,373.6 577.6,371.4 577.6,369 C577.6,366 578.2,362.2 580,360.2 Z"/>
  <path d="M581,401.6 C583.5,400.8 586.5,402.3 589,404.8 C592,407.8 596.5,411.5 598.2,415.5 C599.3,418.3 598,419.6 595.5,419.6 C592.5,419.6 589,419.8 586.5,418.3 C583.5,416.5 583.3,412.5 582.3,409.5 C581.5,407 579.8,403.5 581,401.6 Z"/>
  <path d="M555.6,427.6 C556.8,427.2 557.6,428.2 557.4,430 C557.1,432.5 556.3,435.5 557.5,436.3 C559,437.3 561.5,435.3 563.3,436.6 C564.7,437.6 564.4,441.3 563.6,443.3 C561.5,442.3 558.5,441.5 556,441.3 C554,441.1 551.3,441.8 549.8,441.3 C550.6,439.5 552.6,437.6 553.6,435.3 C554.6,433 554.3,428.1 555.6,427.6 Z"/>
  <path d="M549.8,474.6 C551.2,474.3 551.3,476 550.6,478.5 C549.8,481.3 550.6,484.5 550.2,487.5 C549.8,490.5 548.3,493 546.3,493 C544.3,493 543.4,490.8 543.8,488 C544.3,484.6 546.2,482 547.2,479.3 C547.9,477.3 548.6,474.9 549.8,474.6 Z"/>
</g>
<g id="greencells">
  <g transform="translate(543.4,418.3) rotate(0) scale(1.0)"><path d="M-9.4,-2.6 C-7.6,-3.6 -6.6,-5.4 -4.6,-6.2 C-2.4,-7 0.2,-5.8 2.6,-6.4 C4.6,-6.9 6.2,-7.6 7.6,-6.4 C8.8,-5.2 7.4,-2.8 7.8,-0.6 C8.2,1.6 10.6,4.6 9.8,6.6 C9,8.4 6.2,6.4 3.8,5.8 C1.2,5.2 -1.6,6.8 -4.2,7 C-6.4,7.2 -8.4,6.6 -8,4.6 C-7.6,2.8 -5.8,1.6 -7,0.4 C-8.2,-0.6 -10.6,-1.8 -9.4,-2.6 Z" fill="#a2ca78"/><circle cx="0" cy="0" r="2.3" fill="#7fba50"/><circle cx="0" cy="0" r="1.3" fill="#5fa232"/></g>
  <g transform="translate(511,441) rotate(15) scale(0.95)"><path d="M-9.4,-2.6 C-7.6,-3.6 -6.6,-5.4 -4.6,-6.2 C-2.4,-7 0.2,-5.8 2.6,-6.4 C4.6,-6.9 6.2,-7.6 7.6,-6.4 C8.8,-5.2 7.4,-2.8 7.8,-0.6 C8.2,1.6 10.6,4.6 9.8,6.6 C9,8.4 6.2,6.4 3.8,5.8 C1.2,5.2 -1.6,6.8 -4.2,7 C-6.4,7.2 -8.4,6.6 -8,4.6 C-7.6,2.8 -5.8,1.6 -7,0.4 C-8.2,-0.6 -10.6,-1.8 -9.4,-2.6 Z" fill="#a2ca78"/><circle cx="0" cy="0" r="2.3" fill="#7fba50"/><circle cx="0" cy="0" r="1.3" fill="#5fa232"/></g>
  <g transform="translate(494.8,444.2) rotate(-10) scale(0.95)"><path d="M-9.4,-2.6 C-7.6,-3.6 -6.6,-5.4 -4.6,-6.2 C-2.4,-7 0.2,-5.8 2.6,-6.4 C4.6,-6.9 6.2,-7.6 7.6,-6.4 C8.8,-5.2 7.4,-2.8 7.8,-0.6 C8.2,1.6 10.6,4.6 9.8,6.6 C9,8.4 6.2,6.4 3.8,5.8 C1.2,5.2 -1.6,6.8 -4.2,7 C-6.4,7.2 -8.4,6.6 -8,4.6 C-7.6,2.8 -5.8,1.6 -7,0.4 C-8.2,-0.6 -10.6,-1.8 -9.4,-2.6 Z" fill="#a2ca78"/><circle cx="0" cy="0" r="2.3" fill="#7fba50"/><circle cx="0" cy="0" r="1.3" fill="#5fa232"/></g>
  <g transform="translate(507.8,461.4) rotate(5) scale(0.95)"><path d="M-9.4,-2.6 C-7.6,-3.6 -6.6,-5.4 -4.6,-6.2 C-2.4,-7 0.2,-5.8 2.6,-6.4 C4.6,-6.9 6.2,-7.6 7.6,-6.4 C8.8,-5.2 7.4,-2.8 7.8,-0.6 C8.2,1.6 10.6,4.6 9.8,6.6 C9,8.4 6.2,6.4 3.8,5.8 C1.2,5.2 -1.6,6.8 -4.2,7 C-6.4,7.2 -8.4,6.6 -8,4.6 C-7.6,2.8 -5.8,1.6 -7,0.4 C-8.2,-0.6 -10.6,-1.8 -9.4,-2.6 Z" fill="#a2ca78"/><circle cx="0" cy="0" r="2.3" fill="#7fba50"/><circle cx="0" cy="0" r="1.3" fill="#5fa232"/></g>
  <g transform="translate(556.8,491.4) rotate(10) scale(0.95)"><path d="M-9.4,-2.6 C-7.6,-3.6 -6.6,-5.4 -4.6,-6.2 C-2.4,-7 0.2,-5.8 2.6,-6.4 C4.6,-6.9 6.2,-7.6 7.6,-6.4 C8.8,-5.2 7.4,-2.8 7.8,-0.6 C8.2,1.6 10.6,4.6 9.8,6.6 C9,8.4 6.2,6.4 3.8,5.8 C1.2,5.2 -1.6,6.8 -4.2,7 C-6.4,7.2 -8.4,6.6 -8,4.6 C-7.6,2.8 -5.8,1.6 -7,0.4 C-8.2,-0.6 -10.6,-1.8 -9.4,-2.6 Z" fill="#a2ca78"/><circle cx="0" cy="0" r="2.3" fill="#7fba50"/><circle cx="0" cy="0" r="1.3" fill="#5fa232"/></g>
  <g transform="translate(581.3,432.6) rotate(20) scale(0.95)"><path d="M-9.4,-2.6 C-7.6,-3.6 -6.6,-5.4 -4.6,-6.2 C-2.4,-7 0.2,-5.8 2.6,-6.4 C4.6,-6.9 6.2,-7.6 7.6,-6.4 C8.8,-5.2 7.4,-2.8 7.8,-0.6 C8.2,1.6 10.6,4.6 9.8,6.6 C9,8.4 6.2,6.4 3.8,5.8 C1.2,5.2 -1.6,6.8 -4.2,7 C-6.4,7.2 -8.4,6.6 -8,4.6 C-7.6,2.8 -5.8,1.6 -7,0.4 C-8.2,-0.6 -10.6,-1.8 -9.4,-2.6 Z" fill="#a2ca78"/><circle cx="0" cy="0" r="2.3" fill="#7fba50"/><circle cx="0" cy="0" r="1.3" fill="#5fa232"/></g>
  <g transform="translate(609.8,413.2) rotate(-15) scale(0.95)"><path d="M-9.4,-2.6 C-7.6,-3.6 -6.6,-5.4 -4.6,-6.2 C-2.4,-7 0.2,-5.8 2.6,-6.4 C4.6,-6.9 6.2,-7.6 7.6,-6.4 C8.8,-5.2 7.4,-2.8 7.8,-0.6 C8.2,1.6 10.6,4.6 9.8,6.6 C9,8.4 6.2,6.4 3.8,5.8 C1.2,5.2 -1.6,6.8 -4.2,7 C-6.4,7.2 -8.4,6.6 -8,4.6 C-7.6,2.8 -5.8,1.6 -7,0.4 C-8.2,-0.6 -10.6,-1.8 -9.4,-2.6 Z" fill="#a2ca78"/><circle cx="0" cy="0" r="2.3" fill="#7fba50"/><circle cx="0" cy="0" r="1.3" fill="#5fa232"/></g>
</g>
<g id="immune">
  <g><circle cx="462.8" cy="355.7" r="0.38" fill="#a970bf" opacity="0.61"/><circle cx="493.0" cy="362.4" r="0.64" fill="#a970bf" opacity="0.51"/><circle cx="474.3" cy="348.6" r="0.53" fill="#a970bf" opacity="0.69"/><circle cx="489.6" cy="371.2" r="0.36" fill="#a970bf" opacity="0.59"/><circle cx="464.4" cy="364.5" r="0.63" fill="#a970bf" opacity="0.55"/><circle cx="462.4" cy="351.4" r="0.45" fill="#a970bf" opacity="0.35"/><circle cx="470.8" cy="377.8" r="0.43" fill="#a970bf" opacity="0.42"/><circle cx="488.4" cy="354.6" r="0.53" fill="#a970bf" opacity="0.71"/><circle cx="468.6" cy="376.7" r="0.43" fill="#a970bf" opacity="0.52"/><circle cx="481.8" cy="346.5" r="0.70" fill="#a970bf" opacity="0.50"/><circle cx="465.2" cy="357.0" r="0.40" fill="#a970bf" opacity="0.55"/><circle cx="484.6" cy="348.6" r="0.63" fill="#a970bf" opacity="0.73"/><circle cx="473.9" cy="373.7" r="0.53" fill="#a970bf" opacity="0.46"/><circle cx="478.6" cy="375.8" r="0.60" fill="#a970bf" opacity="0.55"/><circle cx="468.9" cy="378.6" r="0.74" fill="#a970bf" opacity="0.53"/><circle cx="484.2" cy="367.4" r="0.70" fill="#a970bf" opacity="0.37"/><circle cx="472.0" cy="349.1" r="0.47" fill="#a970bf" opacity="0.67"/><circle cx="486.1" cy="364.4" r="0.53" fill="#a970bf" opacity="0.36"/><circle cx="481.2" cy="353.1" r="0.41" fill="#a970bf" opacity="0.37"/><circle cx="466.5" cy="353.4" r="0.60" fill="#a970bf" opacity="0.61"/><circle cx="482.1" cy="346.2" r="0.62" fill="#a970bf" opacity="0.43"/><circle cx="465.0" cy="364.8" r="0.35" fill="#a970bf" opacity="0.54"/><circle cx="473.3" cy="352.5" r="0.46" fill="#a970bf" opacity="0.49"/><circle cx="471.1" cy="349.9" r="0.60" fill="#a970bf" opacity="0.65"/><circle cx="462.7" cy="373.3" r="0.71" fill="#a970bf" opacity="0.38"/><circle cx="490.2" cy="356.6" r="0.40" fill="#a970bf" opacity="0.53"/><circle cx="463.3" cy="350.6" r="0.50" fill="#a970bf" opacity="0.58"/><circle cx="487.7" cy="351.7" r="0.73" fill="#a970bf" opacity="0.54"/><circle cx="469.2" cy="354.1" r="0.64" fill="#a970bf" opacity="0.68"/><circle cx="465.7" cy="350.8" r="0.44" fill="#a970bf" opacity="0.71"/><circle cx="475.7" cy="363.1" r="9.7" fill="#e4a3d0"/><circle cx="475.7" cy="363.1" r="7.76" fill="#e8abd5"/><path transform="translate(475.29,363.31) scale(1.032)" d="M-2,-5 C-0.4,-5.6 1.2,-5 1.4,-3.8 C1.6,-2.6 0.2,-2.2 -0.2,-1 C-0.6,0.2 0.4,1.2 1.8,1.2 C3,1.2 4.2,0.8 4.8,2 C5.4,3.4 4.2,5 2.2,5.4 C-0.2,5.9 -3,5 -4.2,3 C-5.4,1 -5.2,-1.6 -4.2,-3.2 C-3.6,-4.2 -3,-4.6 -2,-5 Z" fill="#914aa2"/></g>
  <g><circle cx="483.1" cy="407.2" r="0.56" fill="#a970bf" opacity="0.67"/><circle cx="457.5" cy="425.3" r="0.69" fill="#a970bf" opacity="0.49"/><circle cx="476.5" cy="416.0" r="0.57" fill="#a970bf" opacity="0.66"/><circle cx="455.6" cy="410.1" r="0.67" fill="#a970bf" opacity="0.38"/><circle cx="468.3" cy="399.1" r="0.48" fill="#a970bf" opacity="0.67"/><circle cx="471.7" cy="417.6" r="0.56" fill="#a970bf" opacity="0.64"/><circle cx="473.3" cy="396.3" r="0.73" fill="#a970bf" opacity="0.55"/><circle cx="474.5" cy="406.3" r="0.44" fill="#a970bf" opacity="0.56"/><circle cx="461.0" cy="424.8" r="0.61" fill="#a970bf" opacity="0.56"/><circle cx="473.0" cy="397.4" r="0.47" fill="#a970bf" opacity="0.50"/><circle cx="474.9" cy="394.9" r="0.43" fill="#a970bf" opacity="0.69"/><circle cx="478.8" cy="406.6" r="0.58" fill="#a970bf" opacity="0.43"/><circle cx="451.5" cy="406.3" r="0.59" fill="#a970bf" opacity="0.36"/><circle cx="478.7" cy="406.7" r="0.51" fill="#a970bf" opacity="0.67"/><circle cx="452.3" cy="404.1" r="0.63" fill="#a970bf" opacity="0.38"/><circle cx="452.4" cy="406.3" r="0.73" fill="#a970bf" opacity="0.72"/><circle cx="463.4" cy="422.9" r="0.40" fill="#a970bf" opacity="0.52"/><circle cx="472.0" cy="393.4" r="0.54" fill="#a970bf" opacity="0.48"/><circle cx="470.4" cy="423.3" r="0.72" fill="#a970bf" opacity="0.40"/><circle cx="466.7" cy="400.1" r="0.43" fill="#a970bf" opacity="0.44"/><circle cx="460.3" cy="398.2" r="0.49" fill="#a970bf" opacity="0.60"/><circle cx="477.6" cy="419.2" r="0.40" fill="#a970bf" opacity="0.55"/><circle cx="465.0" cy="420.4" r="0.56" fill="#a970bf" opacity="0.52"/><circle cx="455.7" cy="418.6" r="0.56" fill="#a970bf" opacity="0.41"/><circle cx="469.3" cy="423.8" r="0.61" fill="#a970bf" opacity="0.56"/><circle cx="473.8" cy="397.5" r="0.69" fill="#a970bf" opacity="0.44"/><circle cx="464.0" cy="392.7" r="0.71" fill="#a970bf" opacity="0.48"/><circle cx="458.0" cy="425.7" r="0.44" fill="#a970bf" opacity="0.75"/><circle cx="472.9" cy="402.6" r="0.45" fill="#a970bf" opacity="0.64"/><circle cx="464.4" cy="419.5" r="0.68" fill="#a970bf" opacity="0.52"/><circle cx="465" cy="409.4" r="9.7" fill="#e4a3d0"/><circle cx="465" cy="409.4" r="7.76" fill="#e8abd5"/><path transform="translate(464.59,409.61) scale(1.032)" d="M-2,-5 C-0.4,-5.6 1.2,-5 1.4,-3.8 C1.6,-2.6 0.2,-2.2 -0.2,-1 C-0.6,0.2 0.4,1.2 1.8,1.2 C3,1.2 4.2,0.8 4.8,2 C5.4,3.4 4.2,5 2.2,5.4 C-0.2,5.9 -3,5 -4.2,3 C-5.4,1 -5.2,-1.6 -4.2,-3.2 C-3.6,-4.2 -3,-4.6 -2,-5 Z" fill="#914aa2"/></g>
  <g><circle cx="538.0" cy="372.4" r="0.51" fill="#a970bf" opacity="0.62"/><circle cx="546.4" cy="383.7" r="0.62" fill="#a970bf" opacity="0.71"/><circle cx="545.5" cy="380.5" r="0.55" fill="#a970bf" opacity="0.65"/><circle cx="519.9" cy="382.2" r="0.43" fill="#a970bf" opacity="0.38"/><circle cx="542.9" cy="388.4" r="0.57" fill="#a970bf" opacity="0.56"/><circle cx="525.8" cy="378.1" r="0.42" fill="#a970bf" opacity="0.43"/><circle cx="545.2" cy="367.0" r="0.72" fill="#a970bf" opacity="0.39"/><circle cx="552.0" cy="389.3" r="0.53" fill="#a970bf" opacity="0.66"/><circle cx="529.1" cy="394.5" r="0.56" fill="#a970bf" opacity="0.52"/><circle cx="527.9" cy="377.0" r="0.63" fill="#a970bf" opacity="0.69"/><circle cx="541.0" cy="394.7" r="0.65" fill="#a970bf" opacity="0.51"/><circle cx="539.0" cy="392.6" r="0.56" fill="#a970bf" opacity="0.36"/><circle cx="548.4" cy="372.2" r="0.63" fill="#a970bf" opacity="0.69"/><circle cx="526.5" cy="373.1" r="0.59" fill="#a970bf" opacity="0.55"/><circle cx="551.9" cy="380.7" r="0.45" fill="#a970bf" opacity="0.71"/><circle cx="534.8" cy="366.1" r="0.68" fill="#a970bf" opacity="0.51"/><circle cx="549.2" cy="372.0" r="0.63" fill="#a970bf" opacity="0.66"/><circle cx="536.6" cy="369.6" r="0.64" fill="#a970bf" opacity="0.38"/><circle cx="528.0" cy="393.8" r="0.35" fill="#a970bf" opacity="0.49"/><circle cx="525.8" cy="371.0" r="0.44" fill="#a970bf" opacity="0.73"/><circle cx="529.2" cy="371.8" r="0.61" fill="#a970bf" opacity="0.58"/><circle cx="522.9" cy="379.9" r="0.75" fill="#a970bf" opacity="0.61"/><circle cx="530.5" cy="367.0" r="0.74" fill="#a970bf" opacity="0.36"/><circle cx="523.4" cy="371.9" r="0.45" fill="#a970bf" opacity="0.51"/><circle cx="545.9" cy="385.9" r="0.50" fill="#a970bf" opacity="0.39"/><circle cx="535.3" cy="400.1" r="0.57" fill="#a970bf" opacity="0.55"/><circle cx="549.5" cy="379.5" r="0.75" fill="#a970bf" opacity="0.61"/><circle cx="539.0" cy="373.3" r="0.59" fill="#a970bf" opacity="0.65"/><circle cx="552.5" cy="387.5" r="0.41" fill="#a970bf" opacity="0.54"/><circle cx="542.1" cy="394.5" r="0.59" fill="#a970bf" opacity="0.37"/><circle cx="535.4" cy="382.5" r="9.7" fill="#e4a3d0"/><circle cx="535.4" cy="382.5" r="7.76" fill="#e8abd5"/><path transform="translate(534.99,382.71) scale(1.032)" d="M-2,-5 C-0.4,-5.6 1.2,-5 1.4,-3.8 C1.6,-2.6 0.2,-2.2 -0.2,-1 C-0.6,0.2 0.4,1.2 1.8,1.2 C3,1.2 4.2,0.8 4.8,2 C5.4,3.4 4.2,5 2.2,5.4 C-0.2,5.9 -3,5 -4.2,3 C-5.4,1 -5.2,-1.6 -4.2,-3.2 C-3.6,-4.2 -3,-4.6 -2,-5 Z" fill="#914aa2"/></g>
  <g><circle cx="536.8" cy="488.1" r="0.56" fill="#a970bf" opacity="0.59"/><circle cx="516.4" cy="501.6" r="0.61" fill="#a970bf" opacity="0.57"/><circle cx="521.0" cy="508.2" r="0.47" fill="#a970bf" opacity="0.36"/><circle cx="524.6" cy="502.3" r="0.41" fill="#a970bf" opacity="0.65"/><circle cx="510.7" cy="503.9" r="0.65" fill="#a970bf" opacity="0.37"/><circle cx="542.4" cy="491.3" r="0.38" fill="#a970bf" opacity="0.71"/><circle cx="511.9" cy="498.5" r="0.74" fill="#a970bf" opacity="0.45"/><circle cx="506.5" cy="490.0" r="0.64" fill="#a970bf" opacity="0.54"/><circle cx="541.1" cy="490.4" r="0.59" fill="#a970bf" opacity="0.40"/><circle cx="514.7" cy="483.1" r="0.43" fill="#a970bf" opacity="0.37"/><circle cx="514.0" cy="490.8" r="0.53" fill="#a970bf" opacity="0.62"/><circle cx="513.0" cy="495.8" r="0.58" fill="#a970bf" opacity="0.52"/><circle cx="526.8" cy="478.6" r="0.75" fill="#a970bf" opacity="0.73"/><circle cx="523.2" cy="481.1" r="0.40" fill="#a970bf" opacity="0.71"/><circle cx="527.5" cy="477.8" r="0.49" fill="#a970bf" opacity="0.46"/><circle cx="518.5" cy="479.2" r="0.59" fill="#a970bf" opacity="0.60"/><circle cx="524.5" cy="481.5" r="0.45" fill="#a970bf" opacity="0.74"/><circle cx="539.4" cy="483.8" r="0.37" fill="#a970bf" opacity="0.37"/><circle cx="522.6" cy="505.8" r="0.60" fill="#a970bf" opacity="0.39"/><circle cx="514.7" cy="490.0" r="0.38" fill="#a970bf" opacity="0.62"/><circle cx="509.9" cy="487.9" r="0.50" fill="#a970bf" opacity="0.54"/><circle cx="527.4" cy="504.7" r="0.65" fill="#a970bf" opacity="0.69"/><circle cx="533.6" cy="497.3" r="0.67" fill="#a970bf" opacity="0.60"/><circle cx="525.6" cy="481.4" r="0.52" fill="#a970bf" opacity="0.45"/><circle cx="529.0" cy="480.7" r="0.61" fill="#a970bf" opacity="0.75"/><circle cx="517.7" cy="505.4" r="0.65" fill="#a970bf" opacity="0.72"/><circle cx="512.8" cy="498.2" r="0.39" fill="#a970bf" opacity="0.70"/><circle cx="533.2" cy="497.4" r="0.58" fill="#a970bf" opacity="0.54"/><circle cx="519.5" cy="481.5" r="0.66" fill="#a970bf" opacity="0.38"/><circle cx="527.8" cy="507.7" r="0.38" fill="#a970bf" opacity="0.47"/><circle cx="524.3" cy="492.6" r="9.8" fill="#e4a3d0"/><circle cx="524.3" cy="492.6" r="7.84" fill="#e8abd5"/><path transform="translate(523.88,492.81) scale(1.043)" d="M-2,-5 C-0.4,-5.6 1.2,-5 1.4,-3.8 C1.6,-2.6 0.2,-2.2 -0.2,-1 C-0.6,0.2 0.4,1.2 1.8,1.2 C3,1.2 4.2,0.8 4.8,2 C5.4,3.4 4.2,5 2.2,5.4 C-0.2,5.9 -3,5 -4.2,3 C-5.4,1 -5.2,-1.6 -4.2,-3.2 C-3.6,-4.2 -3,-4.6 -2,-5 Z" fill="#914aa2"/></g>
  <g><circle cx="566.6" cy="420.1" r="0.46" fill="#a970bf" opacity="0.41"/><circle cx="562.2" cy="436.2" r="0.50" fill="#a970bf" opacity="0.40"/><circle cx="565.9" cy="420.9" r="0.72" fill="#a970bf" opacity="0.73"/><circle cx="574.5" cy="425.0" r="0.67" fill="#a970bf" opacity="0.47"/><circle cx="564.9" cy="435.8" r="0.72" fill="#a970bf" opacity="0.71"/><circle cx="568.1" cy="436.2" r="0.50" fill="#a970bf" opacity="0.50"/><circle cx="562.1" cy="433.5" r="0.43" fill="#a970bf" opacity="0.58"/><circle cx="570.4" cy="421.2" r="0.68" fill="#a970bf" opacity="0.58"/><circle cx="572.2" cy="437.4" r="0.70" fill="#a970bf" opacity="0.46"/><circle cx="576.0" cy="430.1" r="0.57" fill="#a970bf" opacity="0.58"/><circle cx="576.6" cy="427.2" r="0.67" fill="#a970bf" opacity="0.38"/><circle cx="558.9" cy="426.2" r="0.38" fill="#a970bf" opacity="0.38"/><circle cx="567.2" cy="418.9" r="0.38" fill="#a970bf" opacity="0.60"/><circle cx="573.7" cy="436.3" r="0.61" fill="#a970bf" opacity="0.45"/><circle cx="569.7" cy="438.2" r="0.56" fill="#a970bf" opacity="0.66"/><circle cx="562.4" cy="433.4" r="0.74" fill="#a970bf" opacity="0.62"/><circle cx="559.8" cy="429.3" r="0.64" fill="#a970bf" opacity="0.63"/><circle cx="574.5" cy="425.2" r="0.68" fill="#a970bf" opacity="0.62"/><circle cx="573.8" cy="421.4" r="0.68" fill="#a970bf" opacity="0.71"/><circle cx="576.4" cy="426.7" r="0.56" fill="#a970bf" opacity="0.63"/><circle cx="570.4" cy="421.8" r="0.52" fill="#a970bf" opacity="0.41"/><circle cx="567.4" cy="418.4" r="0.50" fill="#a970bf" opacity="0.42"/><circle cx="570.1" cy="436.3" r="0.47" fill="#a970bf" opacity="0.74"/><circle cx="574.5" cy="431.5" r="0.40" fill="#a970bf" opacity="0.61"/><circle cx="569.0" cy="422.8" r="0.37" fill="#a970bf" opacity="0.53"/><circle cx="559.2" cy="423.9" r="0.36" fill="#a970bf" opacity="0.39"/><circle cx="570.6" cy="434.9" r="0.44" fill="#a970bf" opacity="0.64"/><circle cx="562.6" cy="425.3" r="0.42" fill="#a970bf" opacity="0.46"/><circle cx="572.4" cy="437.3" r="0.47" fill="#a970bf" opacity="0.57"/><circle cx="571.2" cy="421.8" r="0.45" fill="#a970bf" opacity="0.70"/><circle cx="568" cy="429" r="5.6" fill="#e4a3d0"/><circle cx="568" cy="429" r="4.48" fill="#e8abd5"/><path transform="translate(567.76,429.12) scale(0.596)" d="M-2,-5 C-0.4,-5.6 1.2,-5 1.4,-3.8 C1.6,-2.6 0.2,-2.2 -0.2,-1 C-0.6,0.2 0.4,1.2 1.8,1.2 C3,1.2 4.2,0.8 4.8,2 C5.4,3.4 4.2,5 2.2,5.4 C-0.2,5.9 -3,5 -4.2,3 C-5.4,1 -5.2,-1.6 -4.2,-3.2 C-3.6,-4.2 -3,-4.6 -2,-5 Z" fill="#914aa2"/></g>
  <g><circle cx="600.4" cy="421.5" r="0.57" fill="#a970bf" opacity="0.73"/><circle cx="587.8" cy="425.9" r="0.37" fill="#a970bf" opacity="0.73"/><circle cx="596.6" cy="418.2" r="0.56" fill="#a970bf" opacity="0.56"/><circle cx="592.7" cy="435.7" r="0.61" fill="#a970bf" opacity="0.45"/><circle cx="602.1" cy="425.7" r="0.50" fill="#a970bf" opacity="0.67"/><circle cx="592.3" cy="416.9" r="0.41" fill="#a970bf" opacity="0.41"/><circle cx="591.4" cy="431.2" r="0.70" fill="#a970bf" opacity="0.56"/><circle cx="587.4" cy="417.2" r="0.46" fill="#a970bf" opacity="0.56"/><circle cx="599.8" cy="432.8" r="0.35" fill="#a970bf" opacity="0.68"/><circle cx="599.8" cy="417.2" r="0.38" fill="#a970bf" opacity="0.46"/><circle cx="593.1" cy="419.5" r="0.54" fill="#a970bf" opacity="0.54"/><circle cx="602.4" cy="422.9" r="0.69" fill="#a970bf" opacity="0.47"/><circle cx="596.1" cy="417.9" r="0.72" fill="#a970bf" opacity="0.39"/><circle cx="597.3" cy="419.5" r="0.57" fill="#a970bf" opacity="0.56"/><circle cx="599.6" cy="433.3" r="0.47" fill="#a970bf" opacity="0.47"/><circle cx="600.5" cy="428.4" r="0.54" fill="#a970bf" opacity="0.64"/><circle cx="588.6" cy="432.1" r="0.39" fill="#a970bf" opacity="0.51"/><circle cx="584.1" cy="427.7" r="0.68" fill="#a970bf" opacity="0.61"/><circle cx="601.6" cy="425.8" r="0.63" fill="#a970bf" opacity="0.44"/><circle cx="587.2" cy="422.2" r="0.35" fill="#a970bf" opacity="0.75"/><circle cx="596.3" cy="419.1" r="0.60" fill="#a970bf" opacity="0.47"/><circle cx="588.5" cy="431.0" r="0.47" fill="#a970bf" opacity="0.48"/><circle cx="587.4" cy="430.8" r="0.45" fill="#a970bf" opacity="0.43"/><circle cx="593.5" cy="418.2" r="0.73" fill="#a970bf" opacity="0.58"/><circle cx="593.1" cy="418.2" r="0.68" fill="#a970bf" opacity="0.39"/><circle cx="598.0" cy="429.7" r="0.62" fill="#a970bf" opacity="0.63"/><circle cx="597.5" cy="431.9" r="0.68" fill="#a970bf" opacity="0.59"/><circle cx="599.8" cy="428.7" r="0.41" fill="#a970bf" opacity="0.40"/><circle cx="589.5" cy="428.4" r="0.72" fill="#a970bf" opacity="0.52"/><circle cx="585.6" cy="424.6" r="0.66" fill="#a970bf" opacity="0.68"/><circle cx="594.3" cy="425.2" r="5.6" fill="#e4a3d0"/><circle cx="594.3" cy="425.2" r="4.48" fill="#e8abd5"/><path transform="translate(594.06,425.32) scale(0.596)" d="M-2,-5 C-0.4,-5.6 1.2,-5 1.4,-3.8 C1.6,-2.6 0.2,-2.2 -0.2,-1 C-0.6,0.2 0.4,1.2 1.8,1.2 C3,1.2 4.2,0.8 4.8,2 C5.4,3.4 4.2,5 2.2,5.4 C-0.2,5.9 -3,5 -4.2,3 C-5.4,1 -5.2,-1.6 -4.2,-3.2 C-3.6,-4.2 -3,-4.6 -2,-5 Z" fill="#914aa2"/></g>
</g>
<!-- dashed arrows -->
<g id="dashed">
  <defs>
    <linearGradient id="gD1" gradientUnits="userSpaceOnUse" x1="314" y1="494" x2="350" y2="523">
      <stop offset="0" stop-color="#878d8b" stop-opacity="0"/>
      <stop offset="0.2" stop-color="#878d8b" stop-opacity="0.12"/>
      <stop offset="0.55" stop-color="#878d8b" stop-opacity="0.5"/>
      <stop offset="1" stop-color="#878d8b" stop-opacity="1"/>
    </linearGradient>
    <linearGradient id="gD2" gradientUnits="userSpaceOnUse" x1="496" y1="334" x2="462" y2="311">
      <stop offset="0" stop-color="#878d8b" stop-opacity="0"/>
      <stop offset="0.25" stop-color="#878d8b" stop-opacity="0.12"/>
      <stop offset="0.6" stop-color="#878d8b" stop-opacity="0.5"/>
      <stop offset="1" stop-color="#878d8b" stop-opacity="1"/>
    </linearGradient>
  </defs>
  <!-- lower: pyroptosis -> septic AKI -->
  <path d="M448.8,539.9 C380,538 330,522 315.5,494.5" fill="none" stroke="url(#gD1)" stroke-width="7.8" stroke-dasharray="9.5 8 12.8 10.1 15.1 9.7 14.5 10.3 14.4 11.6 14.3 7.7 8"/>
  <path d="M448.3,528.4 L466.9,539.9 L448.3,551.5 Z" fill="#878d8b"/>
  <!-- upper: kidney -> cell -->
  <path d="M382.4,299.8 C415,300.3 462,308 493,331" fill="none" stroke="url(#gD2)" stroke-width="6.5" stroke-dasharray="6.7 7.3 10.9 9 12 9.3 11.6 10.3 11.5 9.9 10.2 8 8"/>
  <path d="M382.6,290.8 L366.7,299.7 L382.6,309.2 Z" fill="#878d8b"/>
</g>
<!-- flame -->
<g id="flame">
  <path d="M392.3,473.7 C390.6,474.4 389.2,475.6 388.6,477.6 C387.8,480.4 388,484.6 386.2,488.6 C384.6,491.8 381.2,494 378.4,497 C375.2,500.6 373.4,504.4 373.4,508 C373.4,515 380.6,520.3 390,520.3 C399.6,520.3 406.9,515 406.9,507.6 C406.9,503.4 405.4,499.2 403.2,495.8 C402.6,497.2 402,498.2 401.2,499 C400.8,495.8 399.6,492.2 398.2,488.8 C396.6,484.8 393.6,481.4 392.2,478 C391.6,476.4 391.6,475 392.3,473.7 Z" fill="#e6404c"/>
  <path d="M390.8,487.2 C390,489.2 389.8,491.4 389.2,493.8 C388.4,496.8 387,499 384.8,501.2 C382,504 379,506.6 379,510.2 C379,514.8 383.6,518.2 389.9,518.2 C396.4,518.2 401.2,514.8 401.2,510 C401.2,507.2 399.8,504.8 398,502.6 C397.6,503.4 397.2,503.8 396.6,504.2 C396.2,501.8 395.4,499.6 394.4,497.6 C393,494.6 391.6,491.2 390.8,487.2 Z" fill="#f5864f"/>
</g>
<!-- labels -->
<g id="labels">
<g class="b" fill="#1c1c1c" stroke="#1c1c1c" stroke-width="0.35" stroke-linejoin="round">
  <text x="34" y="27.3" font-size="21.2" textLength="291" lengthAdjust="spacingAndGlyphs">Non-canonical inflammasome</text>
  <text x="131.3" y="55.4" font-size="21.2" textLength="94.5" lengthAdjust="spacingAndGlyphs">activation</text>
  <text x="491.5" y="28.5" font-size="21.2" textLength="103.5" lengthAdjust="spacingAndGlyphs">Lethal LPS</text>
  <text x="470" y="268.2" font-size="21.2" textLength="156.3" lengthAdjust="spacingAndGlyphs">Zebrafish larvae</text>
  <text x="79.3" y="580" font-size="21.2" textLength="215" lengthAdjust="spacingAndGlyphs">Anti-bacterial defense</text>
  <text x="35.3" y="125" font-size="14.4" textLength="92" lengthAdjust="spacingAndGlyphs">Cytosolic LPS</text>
  <text x="156.1" y="198.8" font-size="14.4" textLength="48.7" lengthAdjust="spacingAndGlyphs">Caspy2</text>
  <text x="47" y="387.7" font-size="14.1" textLength="57.2" lengthAdjust="spacingAndGlyphs">GSDMEb</text>
  <text x="211" y="387.7" font-size="14.1" textLength="83.1" lengthAdjust="spacingAndGlyphs">GSDMEb-NT</text>
  <text x="499.9" y="342" font-size="17.2" textLength="100.3" lengthAdjust="spacingAndGlyphs">Tubular cells</text>
</g>
<text x="147.7" y="297.3" font-size="17.3" fill="#2e2e2e" textLength="69.6" lengthAdjust="spacingAndGlyphs">Cleavage</text>
<text class="b" x="144.3" y="502" font-size="17.1" fill="#c9202e" stroke="#c9202e" stroke-width="0.35" textLength="83.7" lengthAdjust="spacingAndGlyphs">Pyroptosis</text>
<text class="b" x="487.3" y="577.1" font-size="28.2" fill="#c9202e" stroke="#c9202e" stroke-width="0.5" textLength="135.4" lengthAdjust="spacingAndGlyphs">Septic-AKI</text>
<text class="b" x="0" y="0" font-size="14.6" fill="#4bab3c" stroke="#4bab3c" stroke-width="0.3" textLength="91.5" lengthAdjust="spacingAndGlyphs" transform="translate(239.3,202.8) rotate(40.3)">Ac-FEID-CMK</text>
</g>
</svg>
</body>
</html>
